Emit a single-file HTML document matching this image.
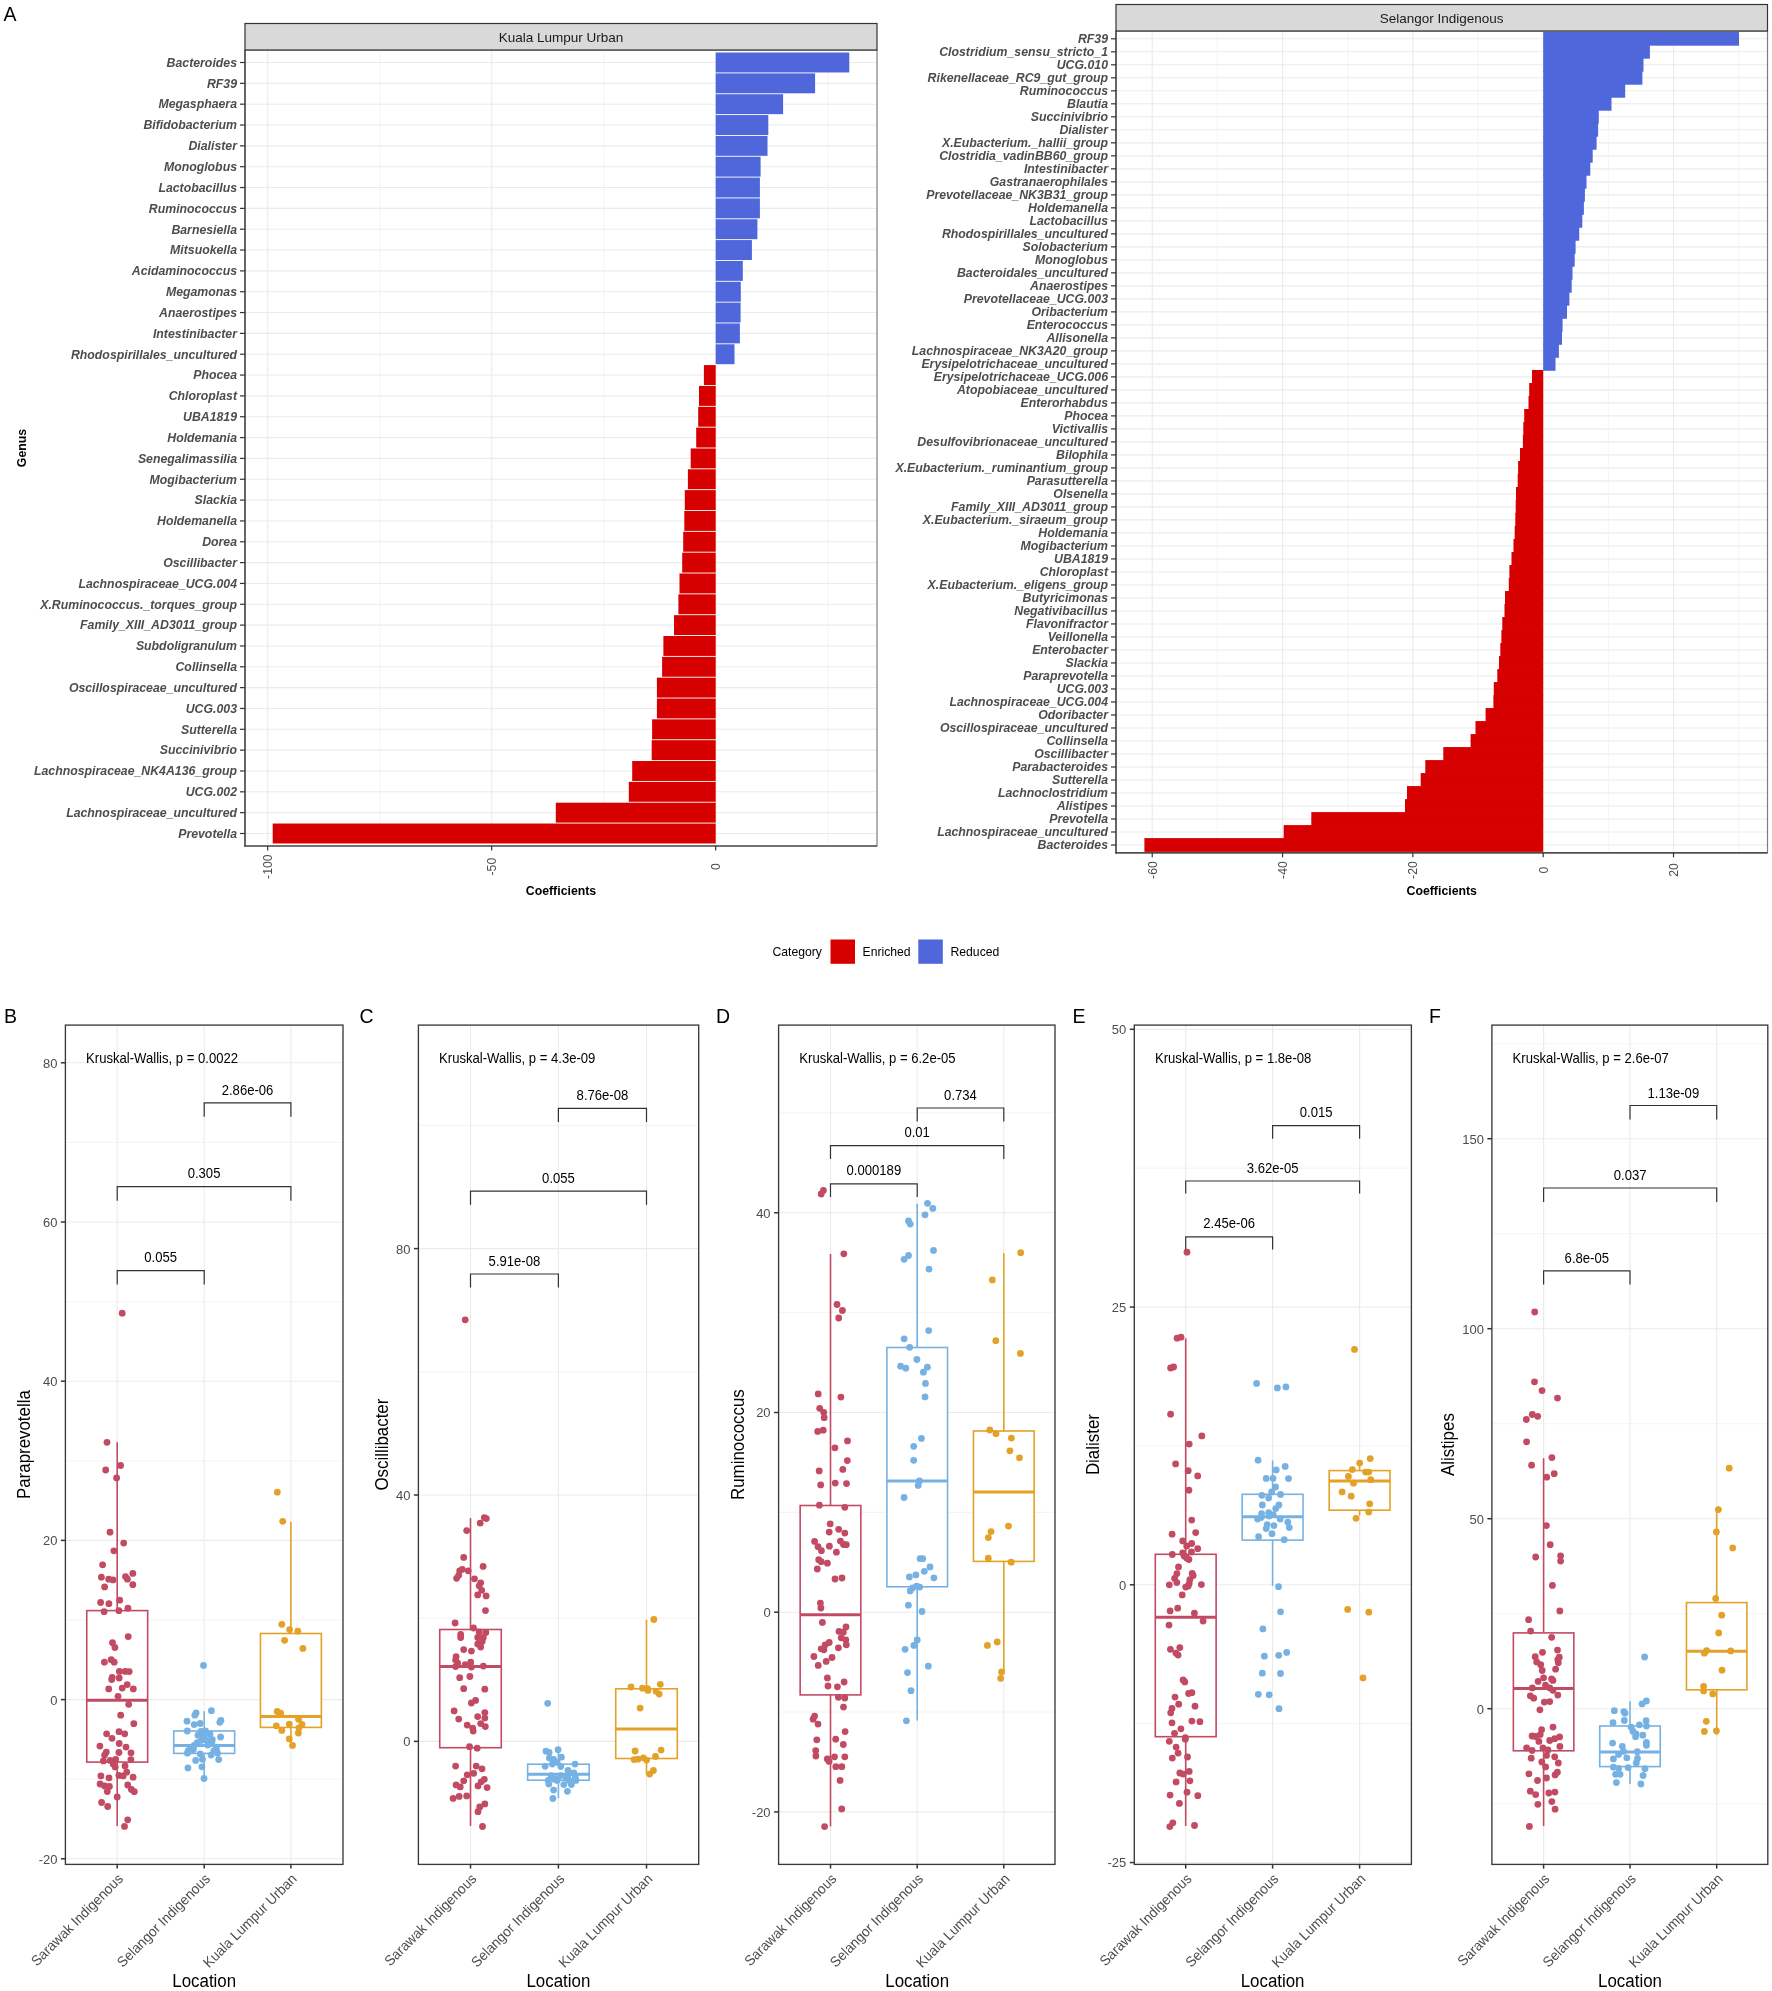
<!DOCTYPE html>
<html><head><meta charset="utf-8"><style>
html,body{margin:0;padding:0;background:#fff;}
svg{display:block;font-family:"Liberation Sans", sans-serif;will-change:transform;}
</style></head><body>
<svg width="1772" height="1991" viewBox="0 0 1772 1991">
<rect x="0" y="0" width="1772" height="1991" fill="#ffffff"/>
<rect x="245.00" y="50.00" width="632.00" height="796.00" fill="#ffffff"/>
<line x1="379.70" y1="50.00" x2="379.70" y2="846.00" stroke="#f2f2f2" stroke-width="0.8"/>
<line x1="603.70" y1="50.00" x2="603.70" y2="846.00" stroke="#f2f2f2" stroke-width="0.8"/>
<line x1="827.70" y1="50.00" x2="827.70" y2="846.00" stroke="#f2f2f2" stroke-width="0.8"/>
<line x1="267.70" y1="50.00" x2="267.70" y2="846.00" stroke="#ebebeb" stroke-width="1.1"/>
<line x1="491.70" y1="50.00" x2="491.70" y2="846.00" stroke="#ebebeb" stroke-width="1.1"/>
<line x1="715.70" y1="50.00" x2="715.70" y2="846.00" stroke="#ebebeb" stroke-width="1.1"/>
<line x1="245.00" y1="62.50" x2="877.00" y2="62.50" stroke="#ebebeb" stroke-width="1.1"/>
<line x1="245.00" y1="83.34" x2="877.00" y2="83.34" stroke="#ebebeb" stroke-width="1.1"/>
<line x1="245.00" y1="104.18" x2="877.00" y2="104.18" stroke="#ebebeb" stroke-width="1.1"/>
<line x1="245.00" y1="125.02" x2="877.00" y2="125.02" stroke="#ebebeb" stroke-width="1.1"/>
<line x1="245.00" y1="145.85" x2="877.00" y2="145.85" stroke="#ebebeb" stroke-width="1.1"/>
<line x1="245.00" y1="166.69" x2="877.00" y2="166.69" stroke="#ebebeb" stroke-width="1.1"/>
<line x1="245.00" y1="187.53" x2="877.00" y2="187.53" stroke="#ebebeb" stroke-width="1.1"/>
<line x1="245.00" y1="208.37" x2="877.00" y2="208.37" stroke="#ebebeb" stroke-width="1.1"/>
<line x1="245.00" y1="229.20" x2="877.00" y2="229.20" stroke="#ebebeb" stroke-width="1.1"/>
<line x1="245.00" y1="250.04" x2="877.00" y2="250.04" stroke="#ebebeb" stroke-width="1.1"/>
<line x1="245.00" y1="270.88" x2="877.00" y2="270.88" stroke="#ebebeb" stroke-width="1.1"/>
<line x1="245.00" y1="291.72" x2="877.00" y2="291.72" stroke="#ebebeb" stroke-width="1.1"/>
<line x1="245.00" y1="312.55" x2="877.00" y2="312.55" stroke="#ebebeb" stroke-width="1.1"/>
<line x1="245.00" y1="333.39" x2="877.00" y2="333.39" stroke="#ebebeb" stroke-width="1.1"/>
<line x1="245.00" y1="354.23" x2="877.00" y2="354.23" stroke="#ebebeb" stroke-width="1.1"/>
<line x1="245.00" y1="375.07" x2="877.00" y2="375.07" stroke="#ebebeb" stroke-width="1.1"/>
<line x1="245.00" y1="395.91" x2="877.00" y2="395.91" stroke="#ebebeb" stroke-width="1.1"/>
<line x1="245.00" y1="416.74" x2="877.00" y2="416.74" stroke="#ebebeb" stroke-width="1.1"/>
<line x1="245.00" y1="437.58" x2="877.00" y2="437.58" stroke="#ebebeb" stroke-width="1.1"/>
<line x1="245.00" y1="458.42" x2="877.00" y2="458.42" stroke="#ebebeb" stroke-width="1.1"/>
<line x1="245.00" y1="479.26" x2="877.00" y2="479.26" stroke="#ebebeb" stroke-width="1.1"/>
<line x1="245.00" y1="500.09" x2="877.00" y2="500.09" stroke="#ebebeb" stroke-width="1.1"/>
<line x1="245.00" y1="520.93" x2="877.00" y2="520.93" stroke="#ebebeb" stroke-width="1.1"/>
<line x1="245.00" y1="541.77" x2="877.00" y2="541.77" stroke="#ebebeb" stroke-width="1.1"/>
<line x1="245.00" y1="562.61" x2="877.00" y2="562.61" stroke="#ebebeb" stroke-width="1.1"/>
<line x1="245.00" y1="583.45" x2="877.00" y2="583.45" stroke="#ebebeb" stroke-width="1.1"/>
<line x1="245.00" y1="604.28" x2="877.00" y2="604.28" stroke="#ebebeb" stroke-width="1.1"/>
<line x1="245.00" y1="625.12" x2="877.00" y2="625.12" stroke="#ebebeb" stroke-width="1.1"/>
<line x1="245.00" y1="645.96" x2="877.00" y2="645.96" stroke="#ebebeb" stroke-width="1.1"/>
<line x1="245.00" y1="666.80" x2="877.00" y2="666.80" stroke="#ebebeb" stroke-width="1.1"/>
<line x1="245.00" y1="687.63" x2="877.00" y2="687.63" stroke="#ebebeb" stroke-width="1.1"/>
<line x1="245.00" y1="708.47" x2="877.00" y2="708.47" stroke="#ebebeb" stroke-width="1.1"/>
<line x1="245.00" y1="729.31" x2="877.00" y2="729.31" stroke="#ebebeb" stroke-width="1.1"/>
<line x1="245.00" y1="750.15" x2="877.00" y2="750.15" stroke="#ebebeb" stroke-width="1.1"/>
<line x1="245.00" y1="770.98" x2="877.00" y2="770.98" stroke="#ebebeb" stroke-width="1.1"/>
<line x1="245.00" y1="791.82" x2="877.00" y2="791.82" stroke="#ebebeb" stroke-width="1.1"/>
<line x1="245.00" y1="812.66" x2="877.00" y2="812.66" stroke="#ebebeb" stroke-width="1.1"/>
<line x1="245.00" y1="833.50" x2="877.00" y2="833.50" stroke="#ebebeb" stroke-width="1.1"/>
<rect x="715.70" y="52.53" width="133.60" height="19.94" fill="#4f67db"/>
<rect x="715.70" y="73.37" width="99.40" height="19.94" fill="#4f67db"/>
<rect x="715.70" y="94.21" width="67.40" height="19.94" fill="#4f67db"/>
<rect x="715.70" y="115.05" width="52.60" height="19.94" fill="#4f67db"/>
<rect x="715.70" y="135.88" width="51.80" height="19.94" fill="#4f67db"/>
<rect x="715.70" y="156.72" width="44.90" height="19.94" fill="#4f67db"/>
<rect x="715.70" y="177.56" width="44.20" height="19.94" fill="#4f67db"/>
<rect x="715.70" y="198.40" width="44.20" height="19.94" fill="#4f67db"/>
<rect x="715.70" y="219.24" width="41.70" height="19.94" fill="#4f67db"/>
<rect x="715.70" y="240.07" width="36.20" height="19.94" fill="#4f67db"/>
<rect x="715.70" y="260.91" width="27.10" height="19.94" fill="#4f67db"/>
<rect x="715.70" y="281.75" width="25.10" height="19.94" fill="#4f67db"/>
<rect x="715.70" y="302.59" width="24.90" height="19.94" fill="#4f67db"/>
<rect x="715.70" y="323.42" width="24.20" height="19.94" fill="#4f67db"/>
<rect x="715.70" y="344.26" width="18.80" height="19.94" fill="#4f67db"/>
<rect x="703.90" y="365.10" width="11.80" height="19.94" fill="#d70000"/>
<rect x="699.00" y="385.94" width="16.70" height="19.94" fill="#d70000"/>
<rect x="698.20" y="406.77" width="17.50" height="19.94" fill="#d70000"/>
<rect x="696.20" y="427.61" width="19.50" height="19.94" fill="#d70000"/>
<rect x="690.70" y="448.45" width="25.00" height="19.94" fill="#d70000"/>
<rect x="687.90" y="469.29" width="27.80" height="19.94" fill="#d70000"/>
<rect x="684.80" y="490.13" width="30.90" height="19.94" fill="#d70000"/>
<rect x="684.30" y="510.96" width="31.40" height="19.94" fill="#d70000"/>
<rect x="683.20" y="531.80" width="32.50" height="19.94" fill="#d70000"/>
<rect x="682.20" y="552.64" width="33.50" height="19.94" fill="#d70000"/>
<rect x="679.50" y="573.48" width="36.20" height="19.94" fill="#d70000"/>
<rect x="678.40" y="594.31" width="37.30" height="19.94" fill="#d70000"/>
<rect x="674.00" y="615.15" width="41.70" height="19.94" fill="#d70000"/>
<rect x="663.40" y="635.99" width="52.30" height="19.94" fill="#d70000"/>
<rect x="662.10" y="656.83" width="53.60" height="19.94" fill="#d70000"/>
<rect x="656.90" y="677.66" width="58.80" height="19.94" fill="#d70000"/>
<rect x="656.90" y="698.50" width="58.80" height="19.94" fill="#d70000"/>
<rect x="652.10" y="719.34" width="63.60" height="19.94" fill="#d70000"/>
<rect x="651.70" y="740.18" width="64.00" height="19.94" fill="#d70000"/>
<rect x="632.20" y="761.02" width="83.50" height="19.94" fill="#d70000"/>
<rect x="628.80" y="781.85" width="86.90" height="19.94" fill="#d70000"/>
<rect x="555.80" y="802.69" width="159.90" height="19.94" fill="#d70000"/>
<rect x="272.70" y="823.53" width="443.00" height="19.94" fill="#d70000"/>
<rect x="245.00" y="50.00" width="632.00" height="796.00" fill="none" stroke="#7f7f7f" stroke-width="1.2"/>
<line x1="245.00" y1="50.00" x2="245.00" y2="846.60" stroke="#333333" stroke-width="1.2"/>
<line x1="244.40" y1="846.00" x2="877.00" y2="846.00" stroke="#333333" stroke-width="1.2"/>
<rect x="245.00" y="23.50" width="632.00" height="26.50" fill="#d9d9d9" stroke="#333333" stroke-width="1.2"/>
<text x="561.00" y="41.70" font-size="13.5" fill="#1a1a1a" text-anchor="middle" font-weight="normal" font-style="normal">Kuala Lumpur Urban</text>
<line x1="240.00" y1="62.50" x2="245.00" y2="62.50" stroke="#333333" stroke-width="1.2"/>
<text x="237.00" y="66.80" font-size="12.3" fill="#4d4d4d" text-anchor="end" font-weight="bold" font-style="italic">Bacteroides</text>
<line x1="240.00" y1="83.34" x2="245.00" y2="83.34" stroke="#333333" stroke-width="1.2"/>
<text x="237.00" y="87.64" font-size="12.3" fill="#4d4d4d" text-anchor="end" font-weight="bold" font-style="italic">RF39</text>
<line x1="240.00" y1="104.18" x2="245.00" y2="104.18" stroke="#333333" stroke-width="1.2"/>
<text x="237.00" y="108.48" font-size="12.3" fill="#4d4d4d" text-anchor="end" font-weight="bold" font-style="italic">Megasphaera</text>
<line x1="240.00" y1="125.02" x2="245.00" y2="125.02" stroke="#333333" stroke-width="1.2"/>
<text x="237.00" y="129.32" font-size="12.3" fill="#4d4d4d" text-anchor="end" font-weight="bold" font-style="italic">Bifidobacterium</text>
<line x1="240.00" y1="145.85" x2="245.00" y2="145.85" stroke="#333333" stroke-width="1.2"/>
<text x="237.00" y="150.15" font-size="12.3" fill="#4d4d4d" text-anchor="end" font-weight="bold" font-style="italic">Dialister</text>
<line x1="240.00" y1="166.69" x2="245.00" y2="166.69" stroke="#333333" stroke-width="1.2"/>
<text x="237.00" y="170.99" font-size="12.3" fill="#4d4d4d" text-anchor="end" font-weight="bold" font-style="italic">Monoglobus</text>
<line x1="240.00" y1="187.53" x2="245.00" y2="187.53" stroke="#333333" stroke-width="1.2"/>
<text x="237.00" y="191.83" font-size="12.3" fill="#4d4d4d" text-anchor="end" font-weight="bold" font-style="italic">Lactobacillus</text>
<line x1="240.00" y1="208.37" x2="245.00" y2="208.37" stroke="#333333" stroke-width="1.2"/>
<text x="237.00" y="212.67" font-size="12.3" fill="#4d4d4d" text-anchor="end" font-weight="bold" font-style="italic">Ruminococcus</text>
<line x1="240.00" y1="229.20" x2="245.00" y2="229.20" stroke="#333333" stroke-width="1.2"/>
<text x="237.00" y="233.50" font-size="12.3" fill="#4d4d4d" text-anchor="end" font-weight="bold" font-style="italic">Barnesiella</text>
<line x1="240.00" y1="250.04" x2="245.00" y2="250.04" stroke="#333333" stroke-width="1.2"/>
<text x="237.00" y="254.34" font-size="12.3" fill="#4d4d4d" text-anchor="end" font-weight="bold" font-style="italic">Mitsuokella</text>
<line x1="240.00" y1="270.88" x2="245.00" y2="270.88" stroke="#333333" stroke-width="1.2"/>
<text x="237.00" y="275.18" font-size="12.3" fill="#4d4d4d" text-anchor="end" font-weight="bold" font-style="italic">Acidaminococcus</text>
<line x1="240.00" y1="291.72" x2="245.00" y2="291.72" stroke="#333333" stroke-width="1.2"/>
<text x="237.00" y="296.02" font-size="12.3" fill="#4d4d4d" text-anchor="end" font-weight="bold" font-style="italic">Megamonas</text>
<line x1="240.00" y1="312.55" x2="245.00" y2="312.55" stroke="#333333" stroke-width="1.2"/>
<text x="237.00" y="316.85" font-size="12.3" fill="#4d4d4d" text-anchor="end" font-weight="bold" font-style="italic">Anaerostipes</text>
<line x1="240.00" y1="333.39" x2="245.00" y2="333.39" stroke="#333333" stroke-width="1.2"/>
<text x="237.00" y="337.69" font-size="12.3" fill="#4d4d4d" text-anchor="end" font-weight="bold" font-style="italic">Intestinibacter</text>
<line x1="240.00" y1="354.23" x2="245.00" y2="354.23" stroke="#333333" stroke-width="1.2"/>
<text x="237.00" y="358.53" font-size="12.3" fill="#4d4d4d" text-anchor="end" font-weight="bold" font-style="italic">Rhodospirillales_uncultured</text>
<line x1="240.00" y1="375.07" x2="245.00" y2="375.07" stroke="#333333" stroke-width="1.2"/>
<text x="237.00" y="379.37" font-size="12.3" fill="#4d4d4d" text-anchor="end" font-weight="bold" font-style="italic">Phocea</text>
<line x1="240.00" y1="395.91" x2="245.00" y2="395.91" stroke="#333333" stroke-width="1.2"/>
<text x="237.00" y="400.21" font-size="12.3" fill="#4d4d4d" text-anchor="end" font-weight="bold" font-style="italic">Chloroplast</text>
<line x1="240.00" y1="416.74" x2="245.00" y2="416.74" stroke="#333333" stroke-width="1.2"/>
<text x="237.00" y="421.04" font-size="12.3" fill="#4d4d4d" text-anchor="end" font-weight="bold" font-style="italic">UBA1819</text>
<line x1="240.00" y1="437.58" x2="245.00" y2="437.58" stroke="#333333" stroke-width="1.2"/>
<text x="237.00" y="441.88" font-size="12.3" fill="#4d4d4d" text-anchor="end" font-weight="bold" font-style="italic">Holdemania</text>
<line x1="240.00" y1="458.42" x2="245.00" y2="458.42" stroke="#333333" stroke-width="1.2"/>
<text x="237.00" y="462.72" font-size="12.3" fill="#4d4d4d" text-anchor="end" font-weight="bold" font-style="italic">Senegalimassilia</text>
<line x1="240.00" y1="479.26" x2="245.00" y2="479.26" stroke="#333333" stroke-width="1.2"/>
<text x="237.00" y="483.56" font-size="12.3" fill="#4d4d4d" text-anchor="end" font-weight="bold" font-style="italic">Mogibacterium</text>
<line x1="240.00" y1="500.09" x2="245.00" y2="500.09" stroke="#333333" stroke-width="1.2"/>
<text x="237.00" y="504.39" font-size="12.3" fill="#4d4d4d" text-anchor="end" font-weight="bold" font-style="italic">Slackia</text>
<line x1="240.00" y1="520.93" x2="245.00" y2="520.93" stroke="#333333" stroke-width="1.2"/>
<text x="237.00" y="525.23" font-size="12.3" fill="#4d4d4d" text-anchor="end" font-weight="bold" font-style="italic">Holdemanella</text>
<line x1="240.00" y1="541.77" x2="245.00" y2="541.77" stroke="#333333" stroke-width="1.2"/>
<text x="237.00" y="546.07" font-size="12.3" fill="#4d4d4d" text-anchor="end" font-weight="bold" font-style="italic">Dorea</text>
<line x1="240.00" y1="562.61" x2="245.00" y2="562.61" stroke="#333333" stroke-width="1.2"/>
<text x="237.00" y="566.91" font-size="12.3" fill="#4d4d4d" text-anchor="end" font-weight="bold" font-style="italic">Oscillibacter</text>
<line x1="240.00" y1="583.45" x2="245.00" y2="583.45" stroke="#333333" stroke-width="1.2"/>
<text x="237.00" y="587.75" font-size="12.3" fill="#4d4d4d" text-anchor="end" font-weight="bold" font-style="italic">Lachnospiraceae_UCG.004</text>
<line x1="240.00" y1="604.28" x2="245.00" y2="604.28" stroke="#333333" stroke-width="1.2"/>
<text x="237.00" y="608.58" font-size="12.3" fill="#4d4d4d" text-anchor="end" font-weight="bold" font-style="italic">X.Ruminococcus._torques_group</text>
<line x1="240.00" y1="625.12" x2="245.00" y2="625.12" stroke="#333333" stroke-width="1.2"/>
<text x="237.00" y="629.42" font-size="12.3" fill="#4d4d4d" text-anchor="end" font-weight="bold" font-style="italic">Family_XIII_AD3011_group</text>
<line x1="240.00" y1="645.96" x2="245.00" y2="645.96" stroke="#333333" stroke-width="1.2"/>
<text x="237.00" y="650.26" font-size="12.3" fill="#4d4d4d" text-anchor="end" font-weight="bold" font-style="italic">Subdoligranulum</text>
<line x1="240.00" y1="666.80" x2="245.00" y2="666.80" stroke="#333333" stroke-width="1.2"/>
<text x="237.00" y="671.10" font-size="12.3" fill="#4d4d4d" text-anchor="end" font-weight="bold" font-style="italic">Collinsella</text>
<line x1="240.00" y1="687.63" x2="245.00" y2="687.63" stroke="#333333" stroke-width="1.2"/>
<text x="237.00" y="691.93" font-size="12.3" fill="#4d4d4d" text-anchor="end" font-weight="bold" font-style="italic">Oscillospiraceae_uncultured</text>
<line x1="240.00" y1="708.47" x2="245.00" y2="708.47" stroke="#333333" stroke-width="1.2"/>
<text x="237.00" y="712.77" font-size="12.3" fill="#4d4d4d" text-anchor="end" font-weight="bold" font-style="italic">UCG.003</text>
<line x1="240.00" y1="729.31" x2="245.00" y2="729.31" stroke="#333333" stroke-width="1.2"/>
<text x="237.00" y="733.61" font-size="12.3" fill="#4d4d4d" text-anchor="end" font-weight="bold" font-style="italic">Sutterella</text>
<line x1="240.00" y1="750.15" x2="245.00" y2="750.15" stroke="#333333" stroke-width="1.2"/>
<text x="237.00" y="754.45" font-size="12.3" fill="#4d4d4d" text-anchor="end" font-weight="bold" font-style="italic">Succinivibrio</text>
<line x1="240.00" y1="770.98" x2="245.00" y2="770.98" stroke="#333333" stroke-width="1.2"/>
<text x="237.00" y="775.28" font-size="12.3" fill="#4d4d4d" text-anchor="end" font-weight="bold" font-style="italic">Lachnospiraceae_NK4A136_group</text>
<line x1="240.00" y1="791.82" x2="245.00" y2="791.82" stroke="#333333" stroke-width="1.2"/>
<text x="237.00" y="796.12" font-size="12.3" fill="#4d4d4d" text-anchor="end" font-weight="bold" font-style="italic">UCG.002</text>
<line x1="240.00" y1="812.66" x2="245.00" y2="812.66" stroke="#333333" stroke-width="1.2"/>
<text x="237.00" y="816.96" font-size="12.3" fill="#4d4d4d" text-anchor="end" font-weight="bold" font-style="italic">Lachnospiraceae_uncultured</text>
<line x1="240.00" y1="833.50" x2="245.00" y2="833.50" stroke="#333333" stroke-width="1.2"/>
<text x="237.00" y="837.80" font-size="12.3" fill="#4d4d4d" text-anchor="end" font-weight="bold" font-style="italic">Prevotella</text>
<line x1="267.70" y1="846.00" x2="267.70" y2="850.50" stroke="#333333" stroke-width="1.2"/>
<text transform="translate(272.00,866.60) rotate(-90)" font-size="12.3" fill="#4d4d4d" text-anchor="middle">-100</text>
<line x1="491.70" y1="846.00" x2="491.70" y2="850.50" stroke="#333333" stroke-width="1.2"/>
<text transform="translate(496.00,866.60) rotate(-90)" font-size="12.3" fill="#4d4d4d" text-anchor="middle">-50</text>
<line x1="715.70" y1="846.00" x2="715.70" y2="850.50" stroke="#333333" stroke-width="1.2"/>
<text transform="translate(720.00,866.60) rotate(-90)" font-size="12.3" fill="#4d4d4d" text-anchor="middle">0</text>
<text x="561.00" y="895.10" font-size="12.3" fill="#000" text-anchor="middle" font-weight="bold" font-style="normal">Coefficients</text>
<rect x="1116.00" y="31.00" width="651.50" height="821.80" fill="#ffffff"/>
<line x1="1217.40" y1="31.00" x2="1217.40" y2="852.80" stroke="#f2f2f2" stroke-width="0.8"/>
<line x1="1347.72" y1="31.00" x2="1347.72" y2="852.80" stroke="#f2f2f2" stroke-width="0.8"/>
<line x1="1478.04" y1="31.00" x2="1478.04" y2="852.80" stroke="#f2f2f2" stroke-width="0.8"/>
<line x1="1608.36" y1="31.00" x2="1608.36" y2="852.80" stroke="#f2f2f2" stroke-width="0.8"/>
<line x1="1738.68" y1="31.00" x2="1738.68" y2="852.80" stroke="#f2f2f2" stroke-width="0.8"/>
<line x1="1152.24" y1="31.00" x2="1152.24" y2="852.80" stroke="#ebebeb" stroke-width="1.1"/>
<line x1="1282.56" y1="31.00" x2="1282.56" y2="852.80" stroke="#ebebeb" stroke-width="1.1"/>
<line x1="1412.88" y1="31.00" x2="1412.88" y2="852.80" stroke="#ebebeb" stroke-width="1.1"/>
<line x1="1543.20" y1="31.00" x2="1543.20" y2="852.80" stroke="#ebebeb" stroke-width="1.1"/>
<line x1="1673.52" y1="31.00" x2="1673.52" y2="852.80" stroke="#ebebeb" stroke-width="1.1"/>
<line x1="1116.00" y1="38.80" x2="1767.50" y2="38.80" stroke="#ebebeb" stroke-width="1.1"/>
<line x1="1116.00" y1="51.81" x2="1767.50" y2="51.81" stroke="#ebebeb" stroke-width="1.1"/>
<line x1="1116.00" y1="64.81" x2="1767.50" y2="64.81" stroke="#ebebeb" stroke-width="1.1"/>
<line x1="1116.00" y1="77.81" x2="1767.50" y2="77.81" stroke="#ebebeb" stroke-width="1.1"/>
<line x1="1116.00" y1="90.81" x2="1767.50" y2="90.81" stroke="#ebebeb" stroke-width="1.1"/>
<line x1="1116.00" y1="103.82" x2="1767.50" y2="103.82" stroke="#ebebeb" stroke-width="1.1"/>
<line x1="1116.00" y1="116.82" x2="1767.50" y2="116.82" stroke="#ebebeb" stroke-width="1.1"/>
<line x1="1116.00" y1="129.82" x2="1767.50" y2="129.82" stroke="#ebebeb" stroke-width="1.1"/>
<line x1="1116.00" y1="142.83" x2="1767.50" y2="142.83" stroke="#ebebeb" stroke-width="1.1"/>
<line x1="1116.00" y1="155.83" x2="1767.50" y2="155.83" stroke="#ebebeb" stroke-width="1.1"/>
<line x1="1116.00" y1="168.83" x2="1767.50" y2="168.83" stroke="#ebebeb" stroke-width="1.1"/>
<line x1="1116.00" y1="181.84" x2="1767.50" y2="181.84" stroke="#ebebeb" stroke-width="1.1"/>
<line x1="1116.00" y1="194.84" x2="1767.50" y2="194.84" stroke="#ebebeb" stroke-width="1.1"/>
<line x1="1116.00" y1="207.84" x2="1767.50" y2="207.84" stroke="#ebebeb" stroke-width="1.1"/>
<line x1="1116.00" y1="220.85" x2="1767.50" y2="220.85" stroke="#ebebeb" stroke-width="1.1"/>
<line x1="1116.00" y1="233.85" x2="1767.50" y2="233.85" stroke="#ebebeb" stroke-width="1.1"/>
<line x1="1116.00" y1="246.85" x2="1767.50" y2="246.85" stroke="#ebebeb" stroke-width="1.1"/>
<line x1="1116.00" y1="259.86" x2="1767.50" y2="259.86" stroke="#ebebeb" stroke-width="1.1"/>
<line x1="1116.00" y1="272.86" x2="1767.50" y2="272.86" stroke="#ebebeb" stroke-width="1.1"/>
<line x1="1116.00" y1="285.86" x2="1767.50" y2="285.86" stroke="#ebebeb" stroke-width="1.1"/>
<line x1="1116.00" y1="298.87" x2="1767.50" y2="298.87" stroke="#ebebeb" stroke-width="1.1"/>
<line x1="1116.00" y1="311.87" x2="1767.50" y2="311.87" stroke="#ebebeb" stroke-width="1.1"/>
<line x1="1116.00" y1="324.87" x2="1767.50" y2="324.87" stroke="#ebebeb" stroke-width="1.1"/>
<line x1="1116.00" y1="337.87" x2="1767.50" y2="337.87" stroke="#ebebeb" stroke-width="1.1"/>
<line x1="1116.00" y1="350.88" x2="1767.50" y2="350.88" stroke="#ebebeb" stroke-width="1.1"/>
<line x1="1116.00" y1="363.88" x2="1767.50" y2="363.88" stroke="#ebebeb" stroke-width="1.1"/>
<line x1="1116.00" y1="376.88" x2="1767.50" y2="376.88" stroke="#ebebeb" stroke-width="1.1"/>
<line x1="1116.00" y1="389.89" x2="1767.50" y2="389.89" stroke="#ebebeb" stroke-width="1.1"/>
<line x1="1116.00" y1="402.89" x2="1767.50" y2="402.89" stroke="#ebebeb" stroke-width="1.1"/>
<line x1="1116.00" y1="415.89" x2="1767.50" y2="415.89" stroke="#ebebeb" stroke-width="1.1"/>
<line x1="1116.00" y1="428.90" x2="1767.50" y2="428.90" stroke="#ebebeb" stroke-width="1.1"/>
<line x1="1116.00" y1="441.90" x2="1767.50" y2="441.90" stroke="#ebebeb" stroke-width="1.1"/>
<line x1="1116.00" y1="454.90" x2="1767.50" y2="454.90" stroke="#ebebeb" stroke-width="1.1"/>
<line x1="1116.00" y1="467.91" x2="1767.50" y2="467.91" stroke="#ebebeb" stroke-width="1.1"/>
<line x1="1116.00" y1="480.91" x2="1767.50" y2="480.91" stroke="#ebebeb" stroke-width="1.1"/>
<line x1="1116.00" y1="493.91" x2="1767.50" y2="493.91" stroke="#ebebeb" stroke-width="1.1"/>
<line x1="1116.00" y1="506.92" x2="1767.50" y2="506.92" stroke="#ebebeb" stroke-width="1.1"/>
<line x1="1116.00" y1="519.92" x2="1767.50" y2="519.92" stroke="#ebebeb" stroke-width="1.1"/>
<line x1="1116.00" y1="532.92" x2="1767.50" y2="532.92" stroke="#ebebeb" stroke-width="1.1"/>
<line x1="1116.00" y1="545.93" x2="1767.50" y2="545.93" stroke="#ebebeb" stroke-width="1.1"/>
<line x1="1116.00" y1="558.93" x2="1767.50" y2="558.93" stroke="#ebebeb" stroke-width="1.1"/>
<line x1="1116.00" y1="571.93" x2="1767.50" y2="571.93" stroke="#ebebeb" stroke-width="1.1"/>
<line x1="1116.00" y1="584.93" x2="1767.50" y2="584.93" stroke="#ebebeb" stroke-width="1.1"/>
<line x1="1116.00" y1="597.94" x2="1767.50" y2="597.94" stroke="#ebebeb" stroke-width="1.1"/>
<line x1="1116.00" y1="610.94" x2="1767.50" y2="610.94" stroke="#ebebeb" stroke-width="1.1"/>
<line x1="1116.00" y1="623.94" x2="1767.50" y2="623.94" stroke="#ebebeb" stroke-width="1.1"/>
<line x1="1116.00" y1="636.95" x2="1767.50" y2="636.95" stroke="#ebebeb" stroke-width="1.1"/>
<line x1="1116.00" y1="649.95" x2="1767.50" y2="649.95" stroke="#ebebeb" stroke-width="1.1"/>
<line x1="1116.00" y1="662.95" x2="1767.50" y2="662.95" stroke="#ebebeb" stroke-width="1.1"/>
<line x1="1116.00" y1="675.96" x2="1767.50" y2="675.96" stroke="#ebebeb" stroke-width="1.1"/>
<line x1="1116.00" y1="688.96" x2="1767.50" y2="688.96" stroke="#ebebeb" stroke-width="1.1"/>
<line x1="1116.00" y1="701.96" x2="1767.50" y2="701.96" stroke="#ebebeb" stroke-width="1.1"/>
<line x1="1116.00" y1="714.97" x2="1767.50" y2="714.97" stroke="#ebebeb" stroke-width="1.1"/>
<line x1="1116.00" y1="727.97" x2="1767.50" y2="727.97" stroke="#ebebeb" stroke-width="1.1"/>
<line x1="1116.00" y1="740.97" x2="1767.50" y2="740.97" stroke="#ebebeb" stroke-width="1.1"/>
<line x1="1116.00" y1="753.98" x2="1767.50" y2="753.98" stroke="#ebebeb" stroke-width="1.1"/>
<line x1="1116.00" y1="766.98" x2="1767.50" y2="766.98" stroke="#ebebeb" stroke-width="1.1"/>
<line x1="1116.00" y1="779.98" x2="1767.50" y2="779.98" stroke="#ebebeb" stroke-width="1.1"/>
<line x1="1116.00" y1="792.99" x2="1767.50" y2="792.99" stroke="#ebebeb" stroke-width="1.1"/>
<line x1="1116.00" y1="805.99" x2="1767.50" y2="805.99" stroke="#ebebeb" stroke-width="1.1"/>
<line x1="1116.00" y1="818.99" x2="1767.50" y2="818.99" stroke="#ebebeb" stroke-width="1.1"/>
<line x1="1116.00" y1="831.99" x2="1767.50" y2="831.99" stroke="#ebebeb" stroke-width="1.1"/>
<line x1="1116.00" y1="845.00" x2="1767.50" y2="845.00" stroke="#ebebeb" stroke-width="1.1"/>
<rect x="1543.20" y="31.90" width="195.80" height="13.80" fill="#4f67db"/>
<rect x="1543.20" y="44.90" width="106.70" height="13.80" fill="#4f67db"/>
<rect x="1543.20" y="57.91" width="100.30" height="13.80" fill="#4f67db"/>
<rect x="1543.20" y="70.91" width="99.20" height="13.80" fill="#4f67db"/>
<rect x="1543.20" y="83.91" width="82.00" height="13.80" fill="#4f67db"/>
<rect x="1543.20" y="96.92" width="68.30" height="13.80" fill="#4f67db"/>
<rect x="1543.20" y="109.92" width="55.60" height="13.80" fill="#4f67db"/>
<rect x="1543.20" y="122.92" width="54.90" height="13.80" fill="#4f67db"/>
<rect x="1543.20" y="135.93" width="53.40" height="13.80" fill="#4f67db"/>
<rect x="1543.20" y="148.93" width="49.50" height="13.80" fill="#4f67db"/>
<rect x="1543.20" y="161.93" width="47.10" height="13.80" fill="#4f67db"/>
<rect x="1543.20" y="174.94" width="43.30" height="13.80" fill="#4f67db"/>
<rect x="1543.20" y="187.94" width="41.70" height="13.80" fill="#4f67db"/>
<rect x="1543.20" y="200.94" width="40.70" height="13.80" fill="#4f67db"/>
<rect x="1543.20" y="213.94" width="39.10" height="13.80" fill="#4f67db"/>
<rect x="1543.20" y="226.95" width="36.00" height="13.80" fill="#4f67db"/>
<rect x="1543.20" y="239.95" width="32.40" height="13.80" fill="#4f67db"/>
<rect x="1543.20" y="252.95" width="31.50" height="13.80" fill="#4f67db"/>
<rect x="1543.20" y="265.96" width="29.30" height="13.80" fill="#4f67db"/>
<rect x="1543.20" y="278.96" width="28.50" height="13.80" fill="#4f67db"/>
<rect x="1543.20" y="291.96" width="26.20" height="13.80" fill="#4f67db"/>
<rect x="1543.20" y="304.97" width="23.80" height="13.80" fill="#4f67db"/>
<rect x="1543.20" y="317.97" width="19.40" height="13.80" fill="#4f67db"/>
<rect x="1543.20" y="330.97" width="18.80" height="13.80" fill="#4f67db"/>
<rect x="1543.20" y="343.98" width="15.70" height="13.80" fill="#4f67db"/>
<rect x="1543.20" y="356.98" width="12.30" height="13.80" fill="#4f67db"/>
<rect x="1532.00" y="369.98" width="11.20" height="13.80" fill="#d70000"/>
<rect x="1529.20" y="382.99" width="14.00" height="13.80" fill="#d70000"/>
<rect x="1528.50" y="395.99" width="14.70" height="13.80" fill="#d70000"/>
<rect x="1524.20" y="408.99" width="19.00" height="13.80" fill="#d70000"/>
<rect x="1523.30" y="422.00" width="19.90" height="13.80" fill="#d70000"/>
<rect x="1522.90" y="435.00" width="20.30" height="13.80" fill="#d70000"/>
<rect x="1520.00" y="448.00" width="23.20" height="13.80" fill="#d70000"/>
<rect x="1518.10" y="461.00" width="25.10" height="13.80" fill="#d70000"/>
<rect x="1517.70" y="474.01" width="25.50" height="13.80" fill="#d70000"/>
<rect x="1516.00" y="487.01" width="27.20" height="13.80" fill="#d70000"/>
<rect x="1515.70" y="500.01" width="27.50" height="13.80" fill="#d70000"/>
<rect x="1515.30" y="513.02" width="27.90" height="13.80" fill="#d70000"/>
<rect x="1514.70" y="526.02" width="28.50" height="13.80" fill="#d70000"/>
<rect x="1513.50" y="539.02" width="29.70" height="13.80" fill="#d70000"/>
<rect x="1511.50" y="552.03" width="31.70" height="13.80" fill="#d70000"/>
<rect x="1509.40" y="565.03" width="33.80" height="13.80" fill="#d70000"/>
<rect x="1508.80" y="578.03" width="34.40" height="13.80" fill="#d70000"/>
<rect x="1505.00" y="591.04" width="38.20" height="13.80" fill="#d70000"/>
<rect x="1504.50" y="604.04" width="38.70" height="13.80" fill="#d70000"/>
<rect x="1502.30" y="617.04" width="40.90" height="13.80" fill="#d70000"/>
<rect x="1501.40" y="630.05" width="41.80" height="13.80" fill="#d70000"/>
<rect x="1500.30" y="643.05" width="42.90" height="13.80" fill="#d70000"/>
<rect x="1499.00" y="656.05" width="44.20" height="13.80" fill="#d70000"/>
<rect x="1497.30" y="669.06" width="45.90" height="13.80" fill="#d70000"/>
<rect x="1493.80" y="682.06" width="49.40" height="13.80" fill="#d70000"/>
<rect x="1493.40" y="695.06" width="49.80" height="13.80" fill="#d70000"/>
<rect x="1485.60" y="708.06" width="57.60" height="13.80" fill="#d70000"/>
<rect x="1475.50" y="721.07" width="67.70" height="13.80" fill="#d70000"/>
<rect x="1470.60" y="734.07" width="72.60" height="13.80" fill="#d70000"/>
<rect x="1443.30" y="747.07" width="99.90" height="13.80" fill="#d70000"/>
<rect x="1425.30" y="760.08" width="117.90" height="13.80" fill="#d70000"/>
<rect x="1420.70" y="773.08" width="122.50" height="13.80" fill="#d70000"/>
<rect x="1407.00" y="786.08" width="136.20" height="13.80" fill="#d70000"/>
<rect x="1405.00" y="799.09" width="138.20" height="13.80" fill="#d70000"/>
<rect x="1311.30" y="812.09" width="231.90" height="13.80" fill="#d70000"/>
<rect x="1283.70" y="825.09" width="259.50" height="13.80" fill="#d70000"/>
<rect x="1144.40" y="838.10" width="398.80" height="13.80" fill="#d70000"/>
<rect x="1116.00" y="31.00" width="651.50" height="821.80" fill="none" stroke="#7f7f7f" stroke-width="1.2"/>
<line x1="1116.00" y1="31.00" x2="1116.00" y2="853.40" stroke="#333333" stroke-width="1.2"/>
<line x1="1115.40" y1="852.80" x2="1767.50" y2="852.80" stroke="#333333" stroke-width="1.2"/>
<rect x="1116.00" y="4.50" width="651.50" height="26.50" fill="#d9d9d9" stroke="#333333" stroke-width="1.2"/>
<text x="1441.70" y="22.70" font-size="13.5" fill="#1a1a1a" text-anchor="middle" font-weight="normal" font-style="normal">Selangor Indigenous</text>
<line x1="1111.00" y1="38.80" x2="1116.00" y2="38.80" stroke="#333333" stroke-width="1.2"/>
<text x="1108.00" y="43.10" font-size="12.3" fill="#4d4d4d" text-anchor="end" font-weight="bold" font-style="italic">RF39</text>
<line x1="1111.00" y1="51.81" x2="1116.00" y2="51.81" stroke="#333333" stroke-width="1.2"/>
<text x="1108.00" y="56.11" font-size="12.3" fill="#4d4d4d" text-anchor="end" font-weight="bold" font-style="italic">Clostridium_sensu_stricto_1</text>
<line x1="1111.00" y1="64.81" x2="1116.00" y2="64.81" stroke="#333333" stroke-width="1.2"/>
<text x="1108.00" y="69.11" font-size="12.3" fill="#4d4d4d" text-anchor="end" font-weight="bold" font-style="italic">UCG.010</text>
<line x1="1111.00" y1="77.81" x2="1116.00" y2="77.81" stroke="#333333" stroke-width="1.2"/>
<text x="1108.00" y="82.11" font-size="12.3" fill="#4d4d4d" text-anchor="end" font-weight="bold" font-style="italic">Rikenellaceae_RC9_gut_group</text>
<line x1="1111.00" y1="90.81" x2="1116.00" y2="90.81" stroke="#333333" stroke-width="1.2"/>
<text x="1108.00" y="95.11" font-size="12.3" fill="#4d4d4d" text-anchor="end" font-weight="bold" font-style="italic">Ruminococcus</text>
<line x1="1111.00" y1="103.82" x2="1116.00" y2="103.82" stroke="#333333" stroke-width="1.2"/>
<text x="1108.00" y="108.12" font-size="12.3" fill="#4d4d4d" text-anchor="end" font-weight="bold" font-style="italic">Blautia</text>
<line x1="1111.00" y1="116.82" x2="1116.00" y2="116.82" stroke="#333333" stroke-width="1.2"/>
<text x="1108.00" y="121.12" font-size="12.3" fill="#4d4d4d" text-anchor="end" font-weight="bold" font-style="italic">Succinivibrio</text>
<line x1="1111.00" y1="129.82" x2="1116.00" y2="129.82" stroke="#333333" stroke-width="1.2"/>
<text x="1108.00" y="134.12" font-size="12.3" fill="#4d4d4d" text-anchor="end" font-weight="bold" font-style="italic">Dialister</text>
<line x1="1111.00" y1="142.83" x2="1116.00" y2="142.83" stroke="#333333" stroke-width="1.2"/>
<text x="1108.00" y="147.13" font-size="12.3" fill="#4d4d4d" text-anchor="end" font-weight="bold" font-style="italic">X.Eubacterium._hallii_group</text>
<line x1="1111.00" y1="155.83" x2="1116.00" y2="155.83" stroke="#333333" stroke-width="1.2"/>
<text x="1108.00" y="160.13" font-size="12.3" fill="#4d4d4d" text-anchor="end" font-weight="bold" font-style="italic">Clostridia_vadinBB60_group</text>
<line x1="1111.00" y1="168.83" x2="1116.00" y2="168.83" stroke="#333333" stroke-width="1.2"/>
<text x="1108.00" y="173.13" font-size="12.3" fill="#4d4d4d" text-anchor="end" font-weight="bold" font-style="italic">Intestinibacter</text>
<line x1="1111.00" y1="181.84" x2="1116.00" y2="181.84" stroke="#333333" stroke-width="1.2"/>
<text x="1108.00" y="186.14" font-size="12.3" fill="#4d4d4d" text-anchor="end" font-weight="bold" font-style="italic">Gastranaerophilales</text>
<line x1="1111.00" y1="194.84" x2="1116.00" y2="194.84" stroke="#333333" stroke-width="1.2"/>
<text x="1108.00" y="199.14" font-size="12.3" fill="#4d4d4d" text-anchor="end" font-weight="bold" font-style="italic">Prevotellaceae_NK3B31_group</text>
<line x1="1111.00" y1="207.84" x2="1116.00" y2="207.84" stroke="#333333" stroke-width="1.2"/>
<text x="1108.00" y="212.14" font-size="12.3" fill="#4d4d4d" text-anchor="end" font-weight="bold" font-style="italic">Holdemanella</text>
<line x1="1111.00" y1="220.85" x2="1116.00" y2="220.85" stroke="#333333" stroke-width="1.2"/>
<text x="1108.00" y="225.15" font-size="12.3" fill="#4d4d4d" text-anchor="end" font-weight="bold" font-style="italic">Lactobacillus</text>
<line x1="1111.00" y1="233.85" x2="1116.00" y2="233.85" stroke="#333333" stroke-width="1.2"/>
<text x="1108.00" y="238.15" font-size="12.3" fill="#4d4d4d" text-anchor="end" font-weight="bold" font-style="italic">Rhodospirillales_uncultured</text>
<line x1="1111.00" y1="246.85" x2="1116.00" y2="246.85" stroke="#333333" stroke-width="1.2"/>
<text x="1108.00" y="251.15" font-size="12.3" fill="#4d4d4d" text-anchor="end" font-weight="bold" font-style="italic">Solobacterium</text>
<line x1="1111.00" y1="259.86" x2="1116.00" y2="259.86" stroke="#333333" stroke-width="1.2"/>
<text x="1108.00" y="264.16" font-size="12.3" fill="#4d4d4d" text-anchor="end" font-weight="bold" font-style="italic">Monoglobus</text>
<line x1="1111.00" y1="272.86" x2="1116.00" y2="272.86" stroke="#333333" stroke-width="1.2"/>
<text x="1108.00" y="277.16" font-size="12.3" fill="#4d4d4d" text-anchor="end" font-weight="bold" font-style="italic">Bacteroidales_uncultured</text>
<line x1="1111.00" y1="285.86" x2="1116.00" y2="285.86" stroke="#333333" stroke-width="1.2"/>
<text x="1108.00" y="290.16" font-size="12.3" fill="#4d4d4d" text-anchor="end" font-weight="bold" font-style="italic">Anaerostipes</text>
<line x1="1111.00" y1="298.87" x2="1116.00" y2="298.87" stroke="#333333" stroke-width="1.2"/>
<text x="1108.00" y="303.17" font-size="12.3" fill="#4d4d4d" text-anchor="end" font-weight="bold" font-style="italic">Prevotellaceae_UCG.003</text>
<line x1="1111.00" y1="311.87" x2="1116.00" y2="311.87" stroke="#333333" stroke-width="1.2"/>
<text x="1108.00" y="316.17" font-size="12.3" fill="#4d4d4d" text-anchor="end" font-weight="bold" font-style="italic">Oribacterium</text>
<line x1="1111.00" y1="324.87" x2="1116.00" y2="324.87" stroke="#333333" stroke-width="1.2"/>
<text x="1108.00" y="329.17" font-size="12.3" fill="#4d4d4d" text-anchor="end" font-weight="bold" font-style="italic">Enterococcus</text>
<line x1="1111.00" y1="337.87" x2="1116.00" y2="337.87" stroke="#333333" stroke-width="1.2"/>
<text x="1108.00" y="342.17" font-size="12.3" fill="#4d4d4d" text-anchor="end" font-weight="bold" font-style="italic">Allisonella</text>
<line x1="1111.00" y1="350.88" x2="1116.00" y2="350.88" stroke="#333333" stroke-width="1.2"/>
<text x="1108.00" y="355.18" font-size="12.3" fill="#4d4d4d" text-anchor="end" font-weight="bold" font-style="italic">Lachnospiraceae_NK3A20_group</text>
<line x1="1111.00" y1="363.88" x2="1116.00" y2="363.88" stroke="#333333" stroke-width="1.2"/>
<text x="1108.00" y="368.18" font-size="12.3" fill="#4d4d4d" text-anchor="end" font-weight="bold" font-style="italic">Erysipelotrichaceae_uncultured</text>
<line x1="1111.00" y1="376.88" x2="1116.00" y2="376.88" stroke="#333333" stroke-width="1.2"/>
<text x="1108.00" y="381.18" font-size="12.3" fill="#4d4d4d" text-anchor="end" font-weight="bold" font-style="italic">Erysipelotrichaceae_UCG.006</text>
<line x1="1111.00" y1="389.89" x2="1116.00" y2="389.89" stroke="#333333" stroke-width="1.2"/>
<text x="1108.00" y="394.19" font-size="12.3" fill="#4d4d4d" text-anchor="end" font-weight="bold" font-style="italic">Atopobiaceae_uncultured</text>
<line x1="1111.00" y1="402.89" x2="1116.00" y2="402.89" stroke="#333333" stroke-width="1.2"/>
<text x="1108.00" y="407.19" font-size="12.3" fill="#4d4d4d" text-anchor="end" font-weight="bold" font-style="italic">Enterorhabdus</text>
<line x1="1111.00" y1="415.89" x2="1116.00" y2="415.89" stroke="#333333" stroke-width="1.2"/>
<text x="1108.00" y="420.19" font-size="12.3" fill="#4d4d4d" text-anchor="end" font-weight="bold" font-style="italic">Phocea</text>
<line x1="1111.00" y1="428.90" x2="1116.00" y2="428.90" stroke="#333333" stroke-width="1.2"/>
<text x="1108.00" y="433.20" font-size="12.3" fill="#4d4d4d" text-anchor="end" font-weight="bold" font-style="italic">Victivallis</text>
<line x1="1111.00" y1="441.90" x2="1116.00" y2="441.90" stroke="#333333" stroke-width="1.2"/>
<text x="1108.00" y="446.20" font-size="12.3" fill="#4d4d4d" text-anchor="end" font-weight="bold" font-style="italic">Desulfovibrionaceae_uncultured</text>
<line x1="1111.00" y1="454.90" x2="1116.00" y2="454.90" stroke="#333333" stroke-width="1.2"/>
<text x="1108.00" y="459.20" font-size="12.3" fill="#4d4d4d" text-anchor="end" font-weight="bold" font-style="italic">Bilophila</text>
<line x1="1111.00" y1="467.91" x2="1116.00" y2="467.91" stroke="#333333" stroke-width="1.2"/>
<text x="1108.00" y="472.21" font-size="12.3" fill="#4d4d4d" text-anchor="end" font-weight="bold" font-style="italic">X.Eubacterium._ruminantium_group</text>
<line x1="1111.00" y1="480.91" x2="1116.00" y2="480.91" stroke="#333333" stroke-width="1.2"/>
<text x="1108.00" y="485.21" font-size="12.3" fill="#4d4d4d" text-anchor="end" font-weight="bold" font-style="italic">Parasutterella</text>
<line x1="1111.00" y1="493.91" x2="1116.00" y2="493.91" stroke="#333333" stroke-width="1.2"/>
<text x="1108.00" y="498.21" font-size="12.3" fill="#4d4d4d" text-anchor="end" font-weight="bold" font-style="italic">Olsenella</text>
<line x1="1111.00" y1="506.92" x2="1116.00" y2="506.92" stroke="#333333" stroke-width="1.2"/>
<text x="1108.00" y="511.22" font-size="12.3" fill="#4d4d4d" text-anchor="end" font-weight="bold" font-style="italic">Family_XIII_AD3011_group</text>
<line x1="1111.00" y1="519.92" x2="1116.00" y2="519.92" stroke="#333333" stroke-width="1.2"/>
<text x="1108.00" y="524.22" font-size="12.3" fill="#4d4d4d" text-anchor="end" font-weight="bold" font-style="italic">X.Eubacterium._siraeum_group</text>
<line x1="1111.00" y1="532.92" x2="1116.00" y2="532.92" stroke="#333333" stroke-width="1.2"/>
<text x="1108.00" y="537.22" font-size="12.3" fill="#4d4d4d" text-anchor="end" font-weight="bold" font-style="italic">Holdemania</text>
<line x1="1111.00" y1="545.93" x2="1116.00" y2="545.93" stroke="#333333" stroke-width="1.2"/>
<text x="1108.00" y="550.23" font-size="12.3" fill="#4d4d4d" text-anchor="end" font-weight="bold" font-style="italic">Mogibacterium</text>
<line x1="1111.00" y1="558.93" x2="1116.00" y2="558.93" stroke="#333333" stroke-width="1.2"/>
<text x="1108.00" y="563.23" font-size="12.3" fill="#4d4d4d" text-anchor="end" font-weight="bold" font-style="italic">UBA1819</text>
<line x1="1111.00" y1="571.93" x2="1116.00" y2="571.93" stroke="#333333" stroke-width="1.2"/>
<text x="1108.00" y="576.23" font-size="12.3" fill="#4d4d4d" text-anchor="end" font-weight="bold" font-style="italic">Chloroplast</text>
<line x1="1111.00" y1="584.93" x2="1116.00" y2="584.93" stroke="#333333" stroke-width="1.2"/>
<text x="1108.00" y="589.23" font-size="12.3" fill="#4d4d4d" text-anchor="end" font-weight="bold" font-style="italic">X.Eubacterium._eligens_group</text>
<line x1="1111.00" y1="597.94" x2="1116.00" y2="597.94" stroke="#333333" stroke-width="1.2"/>
<text x="1108.00" y="602.24" font-size="12.3" fill="#4d4d4d" text-anchor="end" font-weight="bold" font-style="italic">Butyricimonas</text>
<line x1="1111.00" y1="610.94" x2="1116.00" y2="610.94" stroke="#333333" stroke-width="1.2"/>
<text x="1108.00" y="615.24" font-size="12.3" fill="#4d4d4d" text-anchor="end" font-weight="bold" font-style="italic">Negativibacillus</text>
<line x1="1111.00" y1="623.94" x2="1116.00" y2="623.94" stroke="#333333" stroke-width="1.2"/>
<text x="1108.00" y="628.24" font-size="12.3" fill="#4d4d4d" text-anchor="end" font-weight="bold" font-style="italic">Flavonifractor</text>
<line x1="1111.00" y1="636.95" x2="1116.00" y2="636.95" stroke="#333333" stroke-width="1.2"/>
<text x="1108.00" y="641.25" font-size="12.3" fill="#4d4d4d" text-anchor="end" font-weight="bold" font-style="italic">Veillonella</text>
<line x1="1111.00" y1="649.95" x2="1116.00" y2="649.95" stroke="#333333" stroke-width="1.2"/>
<text x="1108.00" y="654.25" font-size="12.3" fill="#4d4d4d" text-anchor="end" font-weight="bold" font-style="italic">Enterobacter</text>
<line x1="1111.00" y1="662.95" x2="1116.00" y2="662.95" stroke="#333333" stroke-width="1.2"/>
<text x="1108.00" y="667.25" font-size="12.3" fill="#4d4d4d" text-anchor="end" font-weight="bold" font-style="italic">Slackia</text>
<line x1="1111.00" y1="675.96" x2="1116.00" y2="675.96" stroke="#333333" stroke-width="1.2"/>
<text x="1108.00" y="680.26" font-size="12.3" fill="#4d4d4d" text-anchor="end" font-weight="bold" font-style="italic">Paraprevotella</text>
<line x1="1111.00" y1="688.96" x2="1116.00" y2="688.96" stroke="#333333" stroke-width="1.2"/>
<text x="1108.00" y="693.26" font-size="12.3" fill="#4d4d4d" text-anchor="end" font-weight="bold" font-style="italic">UCG.003</text>
<line x1="1111.00" y1="701.96" x2="1116.00" y2="701.96" stroke="#333333" stroke-width="1.2"/>
<text x="1108.00" y="706.26" font-size="12.3" fill="#4d4d4d" text-anchor="end" font-weight="bold" font-style="italic">Lachnospiraceae_UCG.004</text>
<line x1="1111.00" y1="714.97" x2="1116.00" y2="714.97" stroke="#333333" stroke-width="1.2"/>
<text x="1108.00" y="719.27" font-size="12.3" fill="#4d4d4d" text-anchor="end" font-weight="bold" font-style="italic">Odoribacter</text>
<line x1="1111.00" y1="727.97" x2="1116.00" y2="727.97" stroke="#333333" stroke-width="1.2"/>
<text x="1108.00" y="732.27" font-size="12.3" fill="#4d4d4d" text-anchor="end" font-weight="bold" font-style="italic">Oscillospiraceae_uncultured</text>
<line x1="1111.00" y1="740.97" x2="1116.00" y2="740.97" stroke="#333333" stroke-width="1.2"/>
<text x="1108.00" y="745.27" font-size="12.3" fill="#4d4d4d" text-anchor="end" font-weight="bold" font-style="italic">Collinsella</text>
<line x1="1111.00" y1="753.98" x2="1116.00" y2="753.98" stroke="#333333" stroke-width="1.2"/>
<text x="1108.00" y="758.28" font-size="12.3" fill="#4d4d4d" text-anchor="end" font-weight="bold" font-style="italic">Oscillibacter</text>
<line x1="1111.00" y1="766.98" x2="1116.00" y2="766.98" stroke="#333333" stroke-width="1.2"/>
<text x="1108.00" y="771.28" font-size="12.3" fill="#4d4d4d" text-anchor="end" font-weight="bold" font-style="italic">Parabacteroides</text>
<line x1="1111.00" y1="779.98" x2="1116.00" y2="779.98" stroke="#333333" stroke-width="1.2"/>
<text x="1108.00" y="784.28" font-size="12.3" fill="#4d4d4d" text-anchor="end" font-weight="bold" font-style="italic">Sutterella</text>
<line x1="1111.00" y1="792.99" x2="1116.00" y2="792.99" stroke="#333333" stroke-width="1.2"/>
<text x="1108.00" y="797.29" font-size="12.3" fill="#4d4d4d" text-anchor="end" font-weight="bold" font-style="italic">Lachnoclostridium</text>
<line x1="1111.00" y1="805.99" x2="1116.00" y2="805.99" stroke="#333333" stroke-width="1.2"/>
<text x="1108.00" y="810.29" font-size="12.3" fill="#4d4d4d" text-anchor="end" font-weight="bold" font-style="italic">Alistipes</text>
<line x1="1111.00" y1="818.99" x2="1116.00" y2="818.99" stroke="#333333" stroke-width="1.2"/>
<text x="1108.00" y="823.29" font-size="12.3" fill="#4d4d4d" text-anchor="end" font-weight="bold" font-style="italic">Prevotella</text>
<line x1="1111.00" y1="831.99" x2="1116.00" y2="831.99" stroke="#333333" stroke-width="1.2"/>
<text x="1108.00" y="836.29" font-size="12.3" fill="#4d4d4d" text-anchor="end" font-weight="bold" font-style="italic">Lachnospiraceae_uncultured</text>
<line x1="1111.00" y1="845.00" x2="1116.00" y2="845.00" stroke="#333333" stroke-width="1.2"/>
<text x="1108.00" y="849.30" font-size="12.3" fill="#4d4d4d" text-anchor="end" font-weight="bold" font-style="italic">Bacteroides</text>
<line x1="1152.24" y1="852.80" x2="1152.24" y2="857.30" stroke="#333333" stroke-width="1.2"/>
<text transform="translate(1156.54,870.00) rotate(-90)" font-size="12.3" fill="#4d4d4d" text-anchor="middle">-60</text>
<line x1="1282.56" y1="852.80" x2="1282.56" y2="857.30" stroke="#333333" stroke-width="1.2"/>
<text transform="translate(1286.86,870.00) rotate(-90)" font-size="12.3" fill="#4d4d4d" text-anchor="middle">-40</text>
<line x1="1412.88" y1="852.80" x2="1412.88" y2="857.30" stroke="#333333" stroke-width="1.2"/>
<text transform="translate(1417.18,870.00) rotate(-90)" font-size="12.3" fill="#4d4d4d" text-anchor="middle">-20</text>
<line x1="1543.20" y1="852.80" x2="1543.20" y2="857.30" stroke="#333333" stroke-width="1.2"/>
<text transform="translate(1547.50,870.00) rotate(-90)" font-size="12.3" fill="#4d4d4d" text-anchor="middle">0</text>
<line x1="1673.52" y1="852.80" x2="1673.52" y2="857.30" stroke="#333333" stroke-width="1.2"/>
<text transform="translate(1677.82,870.00) rotate(-90)" font-size="12.3" fill="#4d4d4d" text-anchor="middle">20</text>
<text x="1441.75" y="895.10" font-size="12.3" fill="#000" text-anchor="middle" font-weight="bold" font-style="normal">Coefficients</text>
<text transform="translate(25.7,448) rotate(-90)" font-size="12.3" font-weight="bold" text-anchor="middle">Genus</text>
<text transform="translate(3.50,21.30) scale(1,1.06)" font-size="19.5" fill="#000" text-anchor="start" font-weight="normal" font-style="normal">A</text>
<text x="772.50" y="956.30" font-size="12.2" fill="#000" text-anchor="start" font-weight="normal" font-style="normal">Category</text>
<rect x="830.50" y="939.50" width="24.50" height="24.30" fill="#d70000"/>
<text x="862.50" y="956.30" font-size="12.2" fill="#000" text-anchor="start" font-weight="normal" font-style="normal">Enriched</text>
<rect x="918.30" y="939.50" width="24.50" height="24.30" fill="#4f67db"/>
<text x="950.50" y="956.30" font-size="12.2" fill="#000" text-anchor="start" font-weight="normal" font-style="normal">Reduced</text>
<rect x="65.40" y="1025.10" width="277.60" height="839.00" fill="#ffffff"/>
<line x1="65.40" y1="1779.20" x2="343.00" y2="1779.20" stroke="#f0f0f0" stroke-width="0.8"/>
<line x1="65.40" y1="1620.00" x2="343.00" y2="1620.00" stroke="#f0f0f0" stroke-width="0.8"/>
<line x1="65.40" y1="1460.80" x2="343.00" y2="1460.80" stroke="#f0f0f0" stroke-width="0.8"/>
<line x1="65.40" y1="1301.60" x2="343.00" y2="1301.60" stroke="#f0f0f0" stroke-width="0.8"/>
<line x1="65.40" y1="1142.40" x2="343.00" y2="1142.40" stroke="#f0f0f0" stroke-width="0.8"/>
<line x1="65.40" y1="1858.80" x2="343.00" y2="1858.80" stroke="#ebebeb" stroke-width="1.1"/>
<line x1="65.40" y1="1699.60" x2="343.00" y2="1699.60" stroke="#ebebeb" stroke-width="1.1"/>
<line x1="65.40" y1="1540.40" x2="343.00" y2="1540.40" stroke="#ebebeb" stroke-width="1.1"/>
<line x1="65.40" y1="1381.20" x2="343.00" y2="1381.20" stroke="#ebebeb" stroke-width="1.1"/>
<line x1="65.40" y1="1222.00" x2="343.00" y2="1222.00" stroke="#ebebeb" stroke-width="1.1"/>
<line x1="65.40" y1="1062.80" x2="343.00" y2="1062.80" stroke="#ebebeb" stroke-width="1.1"/>
<line x1="117.20" y1="1025.10" x2="117.20" y2="1864.10" stroke="#ebebeb" stroke-width="1.1"/>
<line x1="204.20" y1="1025.10" x2="204.20" y2="1864.10" stroke="#ebebeb" stroke-width="1.1"/>
<line x1="290.90" y1="1025.10" x2="290.90" y2="1864.10" stroke="#ebebeb" stroke-width="1.1"/>
<line x1="117.20" y1="1442.20" x2="117.20" y2="1610.60" stroke="#c24b63" stroke-width="1.6"/>
<line x1="117.20" y1="1762.10" x2="117.20" y2="1826.00" stroke="#c24b63" stroke-width="1.6"/>
<rect x="86.75" y="1610.60" width="60.90" height="151.50" fill="#ffffff" stroke="#c24b63" stroke-width="1.6"/>
<line x1="86.75" y1="1700.20" x2="147.65" y2="1700.20" stroke="#c24b63" stroke-width="3.0"/>
<line x1="204.20" y1="1711.30" x2="204.20" y2="1731.00" stroke="#76b1e4" stroke-width="1.6"/>
<line x1="204.20" y1="1753.40" x2="204.20" y2="1778.80" stroke="#76b1e4" stroke-width="1.6"/>
<rect x="173.75" y="1731.00" width="60.90" height="22.40" fill="#ffffff" stroke="#76b1e4" stroke-width="1.6"/>
<line x1="173.75" y1="1745.50" x2="234.65" y2="1745.50" stroke="#76b1e4" stroke-width="3.0"/>
<line x1="290.90" y1="1521.70" x2="290.90" y2="1633.50" stroke="#e3a128" stroke-width="1.6"/>
<line x1="290.90" y1="1727.40" x2="290.90" y2="1745.30" stroke="#e3a128" stroke-width="1.6"/>
<rect x="260.45" y="1633.50" width="60.90" height="93.90" fill="#ffffff" stroke="#e3a128" stroke-width="1.6"/>
<line x1="260.45" y1="1716.40" x2="321.35" y2="1716.40" stroke="#e3a128" stroke-width="3.0"/>
<circle cx="122.2" cy="1313.2" r="3.4" fill="#c24b63"/>
<circle cx="107.0" cy="1442.3" r="3.4" fill="#c24b63"/>
<circle cx="120.6" cy="1465.5" r="3.4" fill="#c24b63"/>
<circle cx="105.7" cy="1470.0" r="3.4" fill="#c24b63"/>
<circle cx="116.6" cy="1478.0" r="3.4" fill="#c24b63"/>
<circle cx="110.0" cy="1532.2" r="3.4" fill="#c24b63"/>
<circle cx="123.7" cy="1543.1" r="3.4" fill="#c24b63"/>
<circle cx="113.9" cy="1550.8" r="3.4" fill="#c24b63"/>
<circle cx="102.6" cy="1564.8" r="3.4" fill="#c24b63"/>
<circle cx="101.4" cy="1577.2" r="3.4" fill="#c24b63"/>
<circle cx="108.7" cy="1579.2" r="3.4" fill="#c24b63"/>
<circle cx="113.0" cy="1579.9" r="3.4" fill="#c24b63"/>
<circle cx="125.5" cy="1576.6" r="3.4" fill="#c24b63"/>
<circle cx="127.4" cy="1579.2" r="3.4" fill="#c24b63"/>
<circle cx="132.8" cy="1573.4" r="3.4" fill="#c24b63"/>
<circle cx="132.8" cy="1584.7" r="3.4" fill="#c24b63"/>
<circle cx="104.6" cy="1586.9" r="3.4" fill="#c24b63"/>
<circle cx="100.6" cy="1602.5" r="3.4" fill="#c24b63"/>
<circle cx="108.9" cy="1603.7" r="3.4" fill="#c24b63"/>
<circle cx="119.7" cy="1600.2" r="3.4" fill="#c24b63"/>
<circle cx="127.9" cy="1608.2" r="3.4" fill="#c24b63"/>
<circle cx="104.1" cy="1611.7" r="3.4" fill="#c24b63"/>
<circle cx="118.9" cy="1610.7" r="3.4" fill="#c24b63"/>
<circle cx="128.2" cy="1636.6" r="3.4" fill="#c24b63"/>
<circle cx="112.5" cy="1642.7" r="3.4" fill="#c24b63"/>
<circle cx="114.9" cy="1647.5" r="3.4" fill="#c24b63"/>
<circle cx="104.4" cy="1662.2" r="3.4" fill="#c24b63"/>
<circle cx="111.2" cy="1659.7" r="3.4" fill="#c24b63"/>
<circle cx="114.2" cy="1662.2" r="3.4" fill="#c24b63"/>
<circle cx="119.4" cy="1671.4" r="3.4" fill="#c24b63"/>
<circle cx="125.2" cy="1671.4" r="3.4" fill="#c24b63"/>
<circle cx="129.2" cy="1671.6" r="3.4" fill="#c24b63"/>
<circle cx="112.2" cy="1677.3" r="3.4" fill="#c24b63"/>
<circle cx="111.7" cy="1679.5" r="3.4" fill="#c24b63"/>
<circle cx="119.2" cy="1678.0" r="3.4" fill="#c24b63"/>
<circle cx="108.7" cy="1688.9" r="3.4" fill="#c24b63"/>
<circle cx="122.2" cy="1688.1" r="3.4" fill="#c24b63"/>
<circle cx="127.2" cy="1684.6" r="3.4" fill="#c24b63"/>
<circle cx="133.3" cy="1688.9" r="3.4" fill="#c24b63"/>
<circle cx="118.0" cy="1696.3" r="3.4" fill="#c24b63"/>
<circle cx="128.7" cy="1704.3" r="3.4" fill="#c24b63"/>
<circle cx="120.7" cy="1715.2" r="3.4" fill="#c24b63"/>
<circle cx="133.8" cy="1723.7" r="3.4" fill="#c24b63"/>
<circle cx="106.6" cy="1733.8" r="3.4" fill="#c24b63"/>
<circle cx="112.0" cy="1738.3" r="3.4" fill="#c24b63"/>
<circle cx="119.0" cy="1731.7" r="3.4" fill="#c24b63"/>
<circle cx="124.7" cy="1733.8" r="3.4" fill="#c24b63"/>
<circle cx="99.9" cy="1746.1" r="3.4" fill="#c24b63"/>
<circle cx="119.2" cy="1743.5" r="3.4" fill="#c24b63"/>
<circle cx="126.0" cy="1747.1" r="3.4" fill="#c24b63"/>
<circle cx="106.3" cy="1752.1" r="3.4" fill="#c24b63"/>
<circle cx="104.6" cy="1755.1" r="3.4" fill="#c24b63"/>
<circle cx="118.9" cy="1752.5" r="3.4" fill="#c24b63"/>
<circle cx="131.0" cy="1752.8" r="3.4" fill="#c24b63"/>
<circle cx="103.4" cy="1760.9" r="3.4" fill="#c24b63"/>
<circle cx="110.2" cy="1760.4" r="3.4" fill="#c24b63"/>
<circle cx="115.7" cy="1759.4" r="3.4" fill="#c24b63"/>
<circle cx="113.2" cy="1763.9" r="3.4" fill="#c24b63"/>
<circle cx="115.2" cy="1766.9" r="3.4" fill="#c24b63"/>
<circle cx="130.9" cy="1759.6" r="3.4" fill="#c24b63"/>
<circle cx="125.0" cy="1765.9" r="3.4" fill="#c24b63"/>
<circle cx="126.7" cy="1772.2" r="3.4" fill="#c24b63"/>
<circle cx="118.9" cy="1775.4" r="3.4" fill="#c24b63"/>
<circle cx="123.2" cy="1775.9" r="3.4" fill="#c24b63"/>
<circle cx="100.9" cy="1775.9" r="3.4" fill="#c24b63"/>
<circle cx="109.0" cy="1777.9" r="3.4" fill="#c24b63"/>
<circle cx="133.1" cy="1777.2" r="3.4" fill="#c24b63"/>
<circle cx="100.1" cy="1784.0" r="3.4" fill="#c24b63"/>
<circle cx="104.6" cy="1786.0" r="3.4" fill="#c24b63"/>
<circle cx="109.4" cy="1786.5" r="3.4" fill="#c24b63"/>
<circle cx="107.3" cy="1791.5" r="3.4" fill="#c24b63"/>
<circle cx="127.7" cy="1785.0" r="3.4" fill="#c24b63"/>
<circle cx="131.4" cy="1789.5" r="3.4" fill="#c24b63"/>
<circle cx="134.3" cy="1791.7" r="3.4" fill="#c24b63"/>
<circle cx="117.2" cy="1797.0" r="3.4" fill="#c24b63"/>
<circle cx="101.6" cy="1802.5" r="3.4" fill="#c24b63"/>
<circle cx="107.7" cy="1806.5" r="3.4" fill="#c24b63"/>
<circle cx="127.7" cy="1819.8" r="3.4" fill="#c24b63"/>
<circle cx="124.5" cy="1826.4" r="3.4" fill="#c24b63"/>
<circle cx="203.5" cy="1665.4" r="3.4" fill="#76b1e4"/>
<circle cx="196.1" cy="1712.9" r="3.4" fill="#76b1e4"/>
<circle cx="194.9" cy="1715.2" r="3.4" fill="#76b1e4"/>
<circle cx="211.4" cy="1710.7" r="3.4" fill="#76b1e4"/>
<circle cx="187.0" cy="1721.2" r="3.4" fill="#76b1e4"/>
<circle cx="194.2" cy="1724.6" r="3.4" fill="#76b1e4"/>
<circle cx="200.2" cy="1723.5" r="3.4" fill="#76b1e4"/>
<circle cx="220.9" cy="1720.5" r="3.4" fill="#76b1e4"/>
<circle cx="219.8" cy="1722.3" r="3.4" fill="#76b1e4"/>
<circle cx="187.3" cy="1731.0" r="3.4" fill="#76b1e4"/>
<circle cx="201.0" cy="1731.4" r="3.4" fill="#76b1e4"/>
<circle cx="205.5" cy="1731.0" r="3.4" fill="#76b1e4"/>
<circle cx="198.0" cy="1735.2" r="3.4" fill="#76b1e4"/>
<circle cx="210.0" cy="1734.0" r="3.4" fill="#76b1e4"/>
<circle cx="220.6" cy="1737.0" r="3.4" fill="#76b1e4"/>
<circle cx="201.3" cy="1740.4" r="3.4" fill="#76b1e4"/>
<circle cx="211.9" cy="1742.7" r="3.4" fill="#76b1e4"/>
<circle cx="194.2" cy="1745.3" r="3.4" fill="#76b1e4"/>
<circle cx="207.8" cy="1745.0" r="3.4" fill="#76b1e4"/>
<circle cx="216.4" cy="1748.3" r="3.4" fill="#76b1e4"/>
<circle cx="188.2" cy="1750.6" r="3.4" fill="#76b1e4"/>
<circle cx="193.4" cy="1749.5" r="3.4" fill="#76b1e4"/>
<circle cx="187.4" cy="1753.2" r="3.4" fill="#76b1e4"/>
<circle cx="200.2" cy="1754.0" r="3.4" fill="#76b1e4"/>
<circle cx="211.1" cy="1755.1" r="3.4" fill="#76b1e4"/>
<circle cx="213.8" cy="1751.0" r="3.4" fill="#76b1e4"/>
<circle cx="202.5" cy="1759.3" r="3.4" fill="#76b1e4"/>
<circle cx="195.7" cy="1760.4" r="3.4" fill="#76b1e4"/>
<circle cx="218.7" cy="1759.6" r="3.4" fill="#76b1e4"/>
<circle cx="187.9" cy="1767.9" r="3.4" fill="#76b1e4"/>
<circle cx="201.9" cy="1766.8" r="3.4" fill="#76b1e4"/>
<circle cx="204.0" cy="1778.5" r="3.4" fill="#76b1e4"/>
<circle cx="282.7" cy="1521.3" r="3.4" fill="#e3a128"/>
<circle cx="281.8" cy="1624.3" r="3.4" fill="#e3a128"/>
<circle cx="289.6" cy="1629.6" r="3.4" fill="#e3a128"/>
<circle cx="297.8" cy="1631.2" r="3.4" fill="#e3a128"/>
<circle cx="284.6" cy="1640.3" r="3.4" fill="#e3a128"/>
<circle cx="302.9" cy="1648.4" r="3.4" fill="#e3a128"/>
<circle cx="277.2" cy="1711.5" r="3.4" fill="#e3a128"/>
<circle cx="280.7" cy="1713.1" r="3.4" fill="#e3a128"/>
<circle cx="298.5" cy="1719.3" r="3.4" fill="#e3a128"/>
<circle cx="276.3" cy="1725.8" r="3.4" fill="#e3a128"/>
<circle cx="289.3" cy="1724.1" r="3.4" fill="#e3a128"/>
<circle cx="302.0" cy="1724.5" r="3.4" fill="#e3a128"/>
<circle cx="299.0" cy="1727.8" r="3.4" fill="#e3a128"/>
<circle cx="281.8" cy="1730.4" r="3.4" fill="#e3a128"/>
<circle cx="298.4" cy="1733.0" r="3.4" fill="#e3a128"/>
<circle cx="289.3" cy="1738.9" r="3.4" fill="#e3a128"/>
<circle cx="292.5" cy="1745.4" r="3.4" fill="#e3a128"/>
<circle cx="277.3" cy="1492.2" r="3.4" fill="#e3a128"/>
<circle cx="204.0" cy="1736.7" r="3.4" fill="#76b1e4"/>
<circle cx="206.2" cy="1740.0" r="3.4" fill="#76b1e4"/>
<circle cx="190.4" cy="1749.5" r="3.4" fill="#76b1e4"/>
<circle cx="212.3" cy="1739.6" r="3.4" fill="#76b1e4"/>
<circle cx="197.2" cy="1742.7" r="3.4" fill="#76b1e4"/>
<circle cx="217.5" cy="1753.2" r="3.4" fill="#76b1e4"/>
<rect x="65.40" y="1025.10" width="277.60" height="839.30" fill="none" stroke="#3a3a3a" stroke-width="1.35"/>
<line x1="60.90" y1="1858.80" x2="65.40" y2="1858.80" stroke="#333333" stroke-width="1.5"/>
<text transform="translate(57.40,1863.70) scale(1,1.05)" font-size="13" fill="#4d4d4d" text-anchor="end" font-weight="normal" font-style="normal">-20</text>
<line x1="60.90" y1="1699.60" x2="65.40" y2="1699.60" stroke="#333333" stroke-width="1.5"/>
<text transform="translate(57.40,1704.50) scale(1,1.05)" font-size="13" fill="#4d4d4d" text-anchor="end" font-weight="normal" font-style="normal">0</text>
<line x1="60.90" y1="1540.40" x2="65.40" y2="1540.40" stroke="#333333" stroke-width="1.5"/>
<text transform="translate(57.40,1545.30) scale(1,1.05)" font-size="13" fill="#4d4d4d" text-anchor="end" font-weight="normal" font-style="normal">20</text>
<line x1="60.90" y1="1381.20" x2="65.40" y2="1381.20" stroke="#333333" stroke-width="1.5"/>
<text transform="translate(57.40,1386.10) scale(1,1.05)" font-size="13" fill="#4d4d4d" text-anchor="end" font-weight="normal" font-style="normal">40</text>
<line x1="60.90" y1="1222.00" x2="65.40" y2="1222.00" stroke="#333333" stroke-width="1.5"/>
<text transform="translate(57.40,1226.90) scale(1,1.05)" font-size="13" fill="#4d4d4d" text-anchor="end" font-weight="normal" font-style="normal">60</text>
<line x1="60.90" y1="1062.80" x2="65.40" y2="1062.80" stroke="#333333" stroke-width="1.5"/>
<text transform="translate(57.40,1067.70) scale(1,1.05)" font-size="13" fill="#4d4d4d" text-anchor="end" font-weight="normal" font-style="normal">80</text>
<line x1="117.20" y1="1864.10" x2="117.20" y2="1868.60" stroke="#333333" stroke-width="1.5"/>
<line x1="204.20" y1="1864.10" x2="204.20" y2="1868.60" stroke="#333333" stroke-width="1.5"/>
<line x1="290.90" y1="1864.10" x2="290.90" y2="1868.60" stroke="#333333" stroke-width="1.5"/>
<text transform="translate(124.00,1879.70) rotate(-45) scale(1,1.05)" font-size="13.6" fill="#4d4d4d" text-anchor="end">Sarawak Indigenous</text>
<text transform="translate(211.00,1879.70) rotate(-45) scale(1,1.05)" font-size="13.6" fill="#4d4d4d" text-anchor="end">Selangor Indigenous</text>
<text transform="translate(297.70,1879.70) rotate(-45) scale(1,1.05)" font-size="13.6" fill="#4d4d4d" text-anchor="end">Kuala Lumpur Urban</text>
<text transform="translate(204.20,1987.00) scale(1,1.05)" font-size="16.9" fill="#000" text-anchor="middle" font-weight="normal" font-style="normal">Location</text>
<text transform="translate(30.10,1444.60) rotate(-90) scale(1,1.05)" font-size="16.9" text-anchor="middle">Paraprevotella</text>
<text transform="translate(86.10,1063.30) scale(1,1.05)" font-size="13.1" fill="#000" text-anchor="start" font-weight="normal" font-style="normal">Kruskal-Wallis, p = 0.0022</text>
<path d="M204.20,1116.70 V1102.90 H290.90 V1116.70" fill="none" stroke="#333333" stroke-width="1.2"/>
<text transform="translate(247.55,1094.70) scale(1,1.05)" font-size="13.1" fill="#000" text-anchor="middle" font-weight="normal" font-style="normal">2.86e-06</text>
<path d="M117.20,1200.80 V1186.60 H290.90 V1200.80" fill="none" stroke="#333333" stroke-width="1.2"/>
<text transform="translate(204.05,1178.40) scale(1,1.05)" font-size="13.1" fill="#000" text-anchor="middle" font-weight="normal" font-style="normal">0.305</text>
<path d="M117.20,1284.50 V1270.70 H204.20 V1284.50" fill="none" stroke="#333333" stroke-width="1.2"/>
<text transform="translate(160.70,1262.30) scale(1,1.05)" font-size="13.1" fill="#000" text-anchor="middle" font-weight="normal" font-style="normal">0.055</text>
<text transform="translate(4.00,1022.70) scale(1,1.06)" font-size="19.5" fill="#000" text-anchor="start" font-weight="normal" font-style="normal">B</text>
<rect x="418.40" y="1025.10" width="280.30" height="839.00" fill="#ffffff"/>
<line x1="418.40" y1="1618.20" x2="698.70" y2="1618.20" stroke="#f0f0f0" stroke-width="0.8"/>
<line x1="418.40" y1="1371.80" x2="698.70" y2="1371.80" stroke="#f0f0f0" stroke-width="0.8"/>
<line x1="418.40" y1="1125.40" x2="698.70" y2="1125.40" stroke="#f0f0f0" stroke-width="0.8"/>
<line x1="418.40" y1="1741.40" x2="698.70" y2="1741.40" stroke="#ebebeb" stroke-width="1.1"/>
<line x1="418.40" y1="1495.00" x2="698.70" y2="1495.00" stroke="#ebebeb" stroke-width="1.1"/>
<line x1="418.40" y1="1248.60" x2="698.70" y2="1248.60" stroke="#ebebeb" stroke-width="1.1"/>
<line x1="470.50" y1="1025.10" x2="470.50" y2="1864.10" stroke="#ebebeb" stroke-width="1.1"/>
<line x1="558.40" y1="1025.10" x2="558.40" y2="1864.10" stroke="#ebebeb" stroke-width="1.1"/>
<line x1="646.50" y1="1025.10" x2="646.50" y2="1864.10" stroke="#ebebeb" stroke-width="1.1"/>
<line x1="470.50" y1="1518.10" x2="470.50" y2="1629.50" stroke="#c24b63" stroke-width="1.6"/>
<line x1="470.50" y1="1747.70" x2="470.50" y2="1825.90" stroke="#c24b63" stroke-width="1.6"/>
<rect x="439.74" y="1629.50" width="61.53" height="118.20" fill="#ffffff" stroke="#c24b63" stroke-width="1.6"/>
<line x1="439.74" y1="1666.40" x2="501.26" y2="1666.40" stroke="#c24b63" stroke-width="3.0"/>
<line x1="558.40" y1="1749.30" x2="558.40" y2="1764.20" stroke="#76b1e4" stroke-width="1.6"/>
<line x1="558.40" y1="1780.20" x2="558.40" y2="1798.10" stroke="#76b1e4" stroke-width="1.6"/>
<rect x="527.63" y="1764.20" width="61.53" height="16.00" fill="#ffffff" stroke="#76b1e4" stroke-width="1.6"/>
<line x1="527.63" y1="1774.30" x2="589.16" y2="1774.30" stroke="#76b1e4" stroke-width="3.0"/>
<line x1="646.50" y1="1619.70" x2="646.50" y2="1688.80" stroke="#e3a128" stroke-width="1.6"/>
<line x1="646.50" y1="1758.50" x2="646.50" y2="1774.70" stroke="#e3a128" stroke-width="1.6"/>
<rect x="615.74" y="1688.80" width="61.53" height="69.70" fill="#ffffff" stroke="#e3a128" stroke-width="1.6"/>
<line x1="615.74" y1="1729.00" x2="677.26" y2="1729.00" stroke="#e3a128" stroke-width="3.0"/>
<circle cx="465.2" cy="1319.8" r="3.4" fill="#c24b63"/>
<circle cx="484.3" cy="1517.6" r="3.4" fill="#c24b63"/>
<circle cx="486.3" cy="1518.6" r="3.4" fill="#c24b63"/>
<circle cx="480.2" cy="1523.1" r="3.4" fill="#c24b63"/>
<circle cx="466.7" cy="1530.6" r="3.4" fill="#c24b63"/>
<circle cx="463.7" cy="1557.4" r="3.4" fill="#c24b63"/>
<circle cx="483.1" cy="1566.4" r="3.4" fill="#c24b63"/>
<circle cx="459.7" cy="1570.8" r="3.4" fill="#c24b63"/>
<circle cx="462.2" cy="1569.3" r="3.4" fill="#c24b63"/>
<circle cx="468.2" cy="1570.8" r="3.4" fill="#c24b63"/>
<circle cx="456.6" cy="1578.3" r="3.4" fill="#c24b63"/>
<circle cx="458.7" cy="1575.3" r="3.4" fill="#c24b63"/>
<circle cx="474.5" cy="1578.8" r="3.4" fill="#c24b63"/>
<circle cx="480.7" cy="1582.8" r="3.4" fill="#c24b63"/>
<circle cx="479.2" cy="1585.8" r="3.4" fill="#c24b63"/>
<circle cx="481.7" cy="1590.3" r="3.4" fill="#c24b63"/>
<circle cx="477.7" cy="1594.9" r="3.4" fill="#c24b63"/>
<circle cx="486.1" cy="1595.9" r="3.4" fill="#c24b63"/>
<circle cx="485.5" cy="1610.6" r="3.4" fill="#c24b63"/>
<circle cx="455.1" cy="1623.0" r="3.4" fill="#c24b63"/>
<circle cx="473.5" cy="1628.0" r="3.4" fill="#c24b63"/>
<circle cx="479.2" cy="1632.0" r="3.4" fill="#c24b63"/>
<circle cx="485.8" cy="1632.5" r="3.4" fill="#c24b63"/>
<circle cx="460.7" cy="1634.5" r="3.4" fill="#c24b63"/>
<circle cx="460.7" cy="1637.5" r="3.4" fill="#c24b63"/>
<circle cx="477.7" cy="1637.5" r="3.4" fill="#c24b63"/>
<circle cx="483.3" cy="1637.5" r="3.4" fill="#c24b63"/>
<circle cx="482.2" cy="1641.5" r="3.4" fill="#c24b63"/>
<circle cx="477.7" cy="1644.1" r="3.4" fill="#c24b63"/>
<circle cx="480.7" cy="1647.1" r="3.4" fill="#c24b63"/>
<circle cx="463.7" cy="1649.6" r="3.4" fill="#c24b63"/>
<circle cx="471.4" cy="1651.1" r="3.4" fill="#c24b63"/>
<circle cx="456.1" cy="1656.6" r="3.4" fill="#c24b63"/>
<circle cx="455.6" cy="1660.1" r="3.4" fill="#c24b63"/>
<circle cx="457.7" cy="1663.1" r="3.4" fill="#c24b63"/>
<circle cx="465.2" cy="1664.6" r="3.4" fill="#c24b63"/>
<circle cx="470.7" cy="1662.1" r="3.4" fill="#c24b63"/>
<circle cx="455.6" cy="1666.6" r="3.4" fill="#c24b63"/>
<circle cx="471.4" cy="1667.1" r="3.4" fill="#c24b63"/>
<circle cx="483.3" cy="1666.1" r="3.4" fill="#c24b63"/>
<circle cx="459.7" cy="1677.7" r="3.4" fill="#c24b63"/>
<circle cx="469.9" cy="1676.5" r="3.4" fill="#c24b63"/>
<circle cx="463.7" cy="1688.7" r="3.4" fill="#c24b63"/>
<circle cx="484.8" cy="1689.2" r="3.4" fill="#c24b63"/>
<circle cx="475.6" cy="1700.4" r="3.4" fill="#c24b63"/>
<circle cx="471.4" cy="1703.0" r="3.4" fill="#c24b63"/>
<circle cx="454.1" cy="1710.9" r="3.4" fill="#c24b63"/>
<circle cx="458.7" cy="1719.1" r="3.4" fill="#c24b63"/>
<circle cx="484.8" cy="1712.6" r="3.4" fill="#c24b63"/>
<circle cx="477.7" cy="1716.6" r="3.4" fill="#c24b63"/>
<circle cx="484.8" cy="1718.1" r="3.4" fill="#c24b63"/>
<circle cx="480.7" cy="1723.6" r="3.4" fill="#c24b63"/>
<circle cx="485.3" cy="1726.6" r="3.4" fill="#c24b63"/>
<circle cx="467.2" cy="1725.1" r="3.4" fill="#c24b63"/>
<circle cx="472.7" cy="1728.1" r="3.4" fill="#c24b63"/>
<circle cx="473.2" cy="1731.1" r="3.4" fill="#c24b63"/>
<circle cx="469.5" cy="1746.7" r="3.4" fill="#c24b63"/>
<circle cx="477.2" cy="1748.2" r="3.4" fill="#c24b63"/>
<circle cx="455.6" cy="1766.1" r="3.4" fill="#c24b63"/>
<circle cx="476.2" cy="1766.1" r="3.4" fill="#c24b63"/>
<circle cx="482.0" cy="1768.8" r="3.4" fill="#c24b63"/>
<circle cx="467.2" cy="1774.8" r="3.4" fill="#c24b63"/>
<circle cx="473.7" cy="1773.3" r="3.4" fill="#c24b63"/>
<circle cx="463.7" cy="1780.8" r="3.4" fill="#c24b63"/>
<circle cx="456.1" cy="1784.9" r="3.4" fill="#c24b63"/>
<circle cx="460.2" cy="1786.9" r="3.4" fill="#c24b63"/>
<circle cx="484.3" cy="1779.3" r="3.4" fill="#c24b63"/>
<circle cx="481.2" cy="1781.8" r="3.4" fill="#c24b63"/>
<circle cx="478.0" cy="1785.9" r="3.4" fill="#c24b63"/>
<circle cx="487.1" cy="1787.6" r="3.4" fill="#c24b63"/>
<circle cx="453.1" cy="1798.4" r="3.4" fill="#c24b63"/>
<circle cx="459.2" cy="1796.4" r="3.4" fill="#c24b63"/>
<circle cx="466.7" cy="1795.9" r="3.4" fill="#c24b63"/>
<circle cx="484.8" cy="1803.9" r="3.4" fill="#c24b63"/>
<circle cx="479.7" cy="1807.0" r="3.4" fill="#c24b63"/>
<circle cx="478.0" cy="1811.7" r="3.4" fill="#c24b63"/>
<circle cx="482.5" cy="1826.5" r="3.4" fill="#c24b63"/>
<circle cx="547.7" cy="1703.3" r="3.4" fill="#76b1e4"/>
<circle cx="546.0" cy="1751.2" r="3.4" fill="#76b1e4"/>
<circle cx="549.1" cy="1752.4" r="3.4" fill="#76b1e4"/>
<circle cx="558.1" cy="1749.7" r="3.4" fill="#76b1e4"/>
<circle cx="549.4" cy="1758.1" r="3.4" fill="#76b1e4"/>
<circle cx="553.6" cy="1759.3" r="3.4" fill="#76b1e4"/>
<circle cx="561.4" cy="1757.2" r="3.4" fill="#76b1e4"/>
<circle cx="552.4" cy="1764.1" r="3.4" fill="#76b1e4"/>
<circle cx="545.1" cy="1766.3" r="3.4" fill="#76b1e4"/>
<circle cx="560.8" cy="1766.6" r="3.4" fill="#76b1e4"/>
<circle cx="575.0" cy="1764.1" r="3.4" fill="#76b1e4"/>
<circle cx="568.0" cy="1770.5" r="3.4" fill="#76b1e4"/>
<circle cx="573.8" cy="1772.9" r="3.4" fill="#76b1e4"/>
<circle cx="551.2" cy="1775.6" r="3.4" fill="#76b1e4"/>
<circle cx="560.8" cy="1775.6" r="3.4" fill="#76b1e4"/>
<circle cx="548.2" cy="1780.4" r="3.4" fill="#76b1e4"/>
<circle cx="556.0" cy="1779.2" r="3.4" fill="#76b1e4"/>
<circle cx="566.2" cy="1778.0" r="3.4" fill="#76b1e4"/>
<circle cx="575.9" cy="1780.4" r="3.4" fill="#76b1e4"/>
<circle cx="548.8" cy="1784.0" r="3.4" fill="#76b1e4"/>
<circle cx="563.8" cy="1784.6" r="3.4" fill="#76b1e4"/>
<circle cx="571.4" cy="1784.6" r="3.4" fill="#76b1e4"/>
<circle cx="553.6" cy="1790.1" r="3.4" fill="#76b1e4"/>
<circle cx="567.4" cy="1791.3" r="3.4" fill="#76b1e4"/>
<circle cx="552.9" cy="1798.5" r="3.4" fill="#76b1e4"/>
<circle cx="557.2" cy="1780.4" r="3.4" fill="#76b1e4"/>
<circle cx="569.2" cy="1780.4" r="3.4" fill="#76b1e4"/>
<circle cx="653.8" cy="1619.5" r="3.4" fill="#e3a128"/>
<circle cx="631.0" cy="1687.0" r="3.4" fill="#e3a128"/>
<circle cx="642.5" cy="1688.2" r="3.4" fill="#e3a128"/>
<circle cx="647.5" cy="1688.6" r="3.4" fill="#e3a128"/>
<circle cx="647.9" cy="1690.4" r="3.4" fill="#e3a128"/>
<circle cx="660.3" cy="1684.3" r="3.4" fill="#e3a128"/>
<circle cx="656.1" cy="1691.3" r="3.4" fill="#e3a128"/>
<circle cx="659.2" cy="1694.1" r="3.4" fill="#e3a128"/>
<circle cx="640.1" cy="1708.1" r="3.4" fill="#e3a128"/>
<circle cx="635.1" cy="1751.0" r="3.4" fill="#e3a128"/>
<circle cx="661.1" cy="1750.1" r="3.4" fill="#e3a128"/>
<circle cx="634.1" cy="1759.6" r="3.4" fill="#e3a128"/>
<circle cx="638.0" cy="1759.2" r="3.4" fill="#e3a128"/>
<circle cx="643.4" cy="1757.8" r="3.4" fill="#e3a128"/>
<circle cx="646.6" cy="1760.1" r="3.4" fill="#e3a128"/>
<circle cx="655.5" cy="1756.5" r="3.4" fill="#e3a128"/>
<circle cx="653.4" cy="1770.5" r="3.4" fill="#e3a128"/>
<circle cx="649.6" cy="1774.1" r="3.4" fill="#e3a128"/>
<circle cx="557.2" cy="1762.3" r="3.4" fill="#76b1e4"/>
<circle cx="554.2" cy="1779.2" r="3.4" fill="#76b1e4"/>
<circle cx="568.0" cy="1775.6" r="3.4" fill="#76b1e4"/>
<circle cx="575.3" cy="1777.4" r="3.4" fill="#76b1e4"/>
<rect x="418.40" y="1025.10" width="280.30" height="839.30" fill="none" stroke="#3a3a3a" stroke-width="1.35"/>
<line x1="413.90" y1="1741.40" x2="418.40" y2="1741.40" stroke="#333333" stroke-width="1.5"/>
<text transform="translate(410.40,1746.30) scale(1,1.05)" font-size="13" fill="#4d4d4d" text-anchor="end" font-weight="normal" font-style="normal">0</text>
<line x1="413.90" y1="1495.00" x2="418.40" y2="1495.00" stroke="#333333" stroke-width="1.5"/>
<text transform="translate(410.40,1499.90) scale(1,1.05)" font-size="13" fill="#4d4d4d" text-anchor="end" font-weight="normal" font-style="normal">40</text>
<line x1="413.90" y1="1248.60" x2="418.40" y2="1248.60" stroke="#333333" stroke-width="1.5"/>
<text transform="translate(410.40,1253.50) scale(1,1.05)" font-size="13" fill="#4d4d4d" text-anchor="end" font-weight="normal" font-style="normal">80</text>
<line x1="470.50" y1="1864.10" x2="470.50" y2="1868.60" stroke="#333333" stroke-width="1.5"/>
<line x1="558.40" y1="1864.10" x2="558.40" y2="1868.60" stroke="#333333" stroke-width="1.5"/>
<line x1="646.50" y1="1864.10" x2="646.50" y2="1868.60" stroke="#333333" stroke-width="1.5"/>
<text transform="translate(477.30,1879.70) rotate(-45) scale(1,1.05)" font-size="13.6" fill="#4d4d4d" text-anchor="end">Sarawak Indigenous</text>
<text transform="translate(565.20,1879.70) rotate(-45) scale(1,1.05)" font-size="13.6" fill="#4d4d4d" text-anchor="end">Selangor Indigenous</text>
<text transform="translate(653.30,1879.70) rotate(-45) scale(1,1.05)" font-size="13.6" fill="#4d4d4d" text-anchor="end">Kuala Lumpur Urban</text>
<text transform="translate(558.40,1987.00) scale(1,1.05)" font-size="16.9" fill="#000" text-anchor="middle" font-weight="normal" font-style="normal">Location</text>
<text transform="translate(387.50,1444.60) rotate(-90) scale(1,1.05)" font-size="16.9" text-anchor="middle">Oscillibacter</text>
<text transform="translate(439.10,1063.30) scale(1,1.05)" font-size="13.1" fill="#000" text-anchor="start" font-weight="normal" font-style="normal">Kruskal-Wallis, p = 4.3e-09</text>
<path d="M558.40,1122.00 V1108.40 H646.50 V1122.00" fill="none" stroke="#333333" stroke-width="1.2"/>
<text transform="translate(602.45,1099.60) scale(1,1.05)" font-size="13.1" fill="#000" text-anchor="middle" font-weight="normal" font-style="normal">8.76e-08</text>
<path d="M470.50,1204.70 V1191.10 H646.50 V1204.70" fill="none" stroke="#333333" stroke-width="1.2"/>
<text transform="translate(558.50,1182.50) scale(1,1.05)" font-size="13.1" fill="#000" text-anchor="middle" font-weight="normal" font-style="normal">0.055</text>
<path d="M470.50,1287.60 V1274.00 H558.40 V1287.60" fill="none" stroke="#333333" stroke-width="1.2"/>
<text transform="translate(514.45,1265.60) scale(1,1.05)" font-size="13.1" fill="#000" text-anchor="middle" font-weight="normal" font-style="normal">5.91e-08</text>
<text transform="translate(359.50,1022.70) scale(1,1.06)" font-size="19.5" fill="#000" text-anchor="start" font-weight="normal" font-style="normal">C</text>
<rect x="778.60" y="1025.10" width="276.40" height="839.00" fill="#ffffff"/>
<line x1="778.60" y1="1712.05" x2="1055.00" y2="1712.05" stroke="#f0f0f0" stroke-width="0.8"/>
<line x1="778.60" y1="1512.35" x2="1055.00" y2="1512.35" stroke="#f0f0f0" stroke-width="0.8"/>
<line x1="778.60" y1="1312.65" x2="1055.00" y2="1312.65" stroke="#f0f0f0" stroke-width="0.8"/>
<line x1="778.60" y1="1112.95" x2="1055.00" y2="1112.95" stroke="#f0f0f0" stroke-width="0.8"/>
<line x1="778.60" y1="1811.90" x2="1055.00" y2="1811.90" stroke="#ebebeb" stroke-width="1.1"/>
<line x1="778.60" y1="1612.20" x2="1055.00" y2="1612.20" stroke="#ebebeb" stroke-width="1.1"/>
<line x1="778.60" y1="1412.50" x2="1055.00" y2="1412.50" stroke="#ebebeb" stroke-width="1.1"/>
<line x1="778.60" y1="1212.80" x2="1055.00" y2="1212.80" stroke="#ebebeb" stroke-width="1.1"/>
<line x1="830.50" y1="1025.10" x2="830.50" y2="1864.10" stroke="#ebebeb" stroke-width="1.1"/>
<line x1="917.20" y1="1025.10" x2="917.20" y2="1864.10" stroke="#ebebeb" stroke-width="1.1"/>
<line x1="1003.80" y1="1025.10" x2="1003.80" y2="1864.10" stroke="#ebebeb" stroke-width="1.1"/>
<line x1="830.50" y1="1254.00" x2="830.50" y2="1505.50" stroke="#c24b63" stroke-width="1.6"/>
<line x1="830.50" y1="1694.90" x2="830.50" y2="1826.50" stroke="#c24b63" stroke-width="1.6"/>
<rect x="800.15" y="1505.50" width="60.69" height="189.40" fill="#ffffff" stroke="#c24b63" stroke-width="1.6"/>
<line x1="800.15" y1="1614.80" x2="860.85" y2="1614.80" stroke="#c24b63" stroke-width="3.0"/>
<line x1="917.20" y1="1203.70" x2="917.20" y2="1347.50" stroke="#76b1e4" stroke-width="1.6"/>
<line x1="917.20" y1="1586.80" x2="917.20" y2="1720.50" stroke="#76b1e4" stroke-width="1.6"/>
<rect x="886.86" y="1347.50" width="60.69" height="239.30" fill="#ffffff" stroke="#76b1e4" stroke-width="1.6"/>
<line x1="886.86" y1="1481.10" x2="947.55" y2="1481.10" stroke="#76b1e4" stroke-width="3.0"/>
<line x1="1003.80" y1="1253.20" x2="1003.80" y2="1431.00" stroke="#e3a128" stroke-width="1.6"/>
<line x1="1003.80" y1="1561.40" x2="1003.80" y2="1672.10" stroke="#e3a128" stroke-width="1.6"/>
<rect x="973.45" y="1431.00" width="60.69" height="130.40" fill="#ffffff" stroke="#e3a128" stroke-width="1.6"/>
<line x1="973.45" y1="1491.90" x2="1034.14" y2="1491.90" stroke="#e3a128" stroke-width="3.0"/>
<circle cx="823.4" cy="1190.5" r="3.4" fill="#c24b63"/>
<circle cx="821.2" cy="1194.0" r="3.4" fill="#c24b63"/>
<circle cx="843.8" cy="1253.8" r="3.4" fill="#c24b63"/>
<circle cx="837.0" cy="1304.5" r="3.4" fill="#c24b63"/>
<circle cx="842.4" cy="1310.5" r="3.4" fill="#c24b63"/>
<circle cx="838.7" cy="1318.0" r="3.4" fill="#c24b63"/>
<circle cx="818.2" cy="1393.9" r="3.4" fill="#c24b63"/>
<circle cx="840.9" cy="1397.1" r="3.4" fill="#c24b63"/>
<circle cx="819.7" cy="1408.3" r="3.4" fill="#c24b63"/>
<circle cx="823.7" cy="1412.3" r="3.4" fill="#c24b63"/>
<circle cx="824.2" cy="1417.7" r="3.4" fill="#c24b63"/>
<circle cx="817.7" cy="1431.4" r="3.4" fill="#c24b63"/>
<circle cx="823.2" cy="1430.2" r="3.4" fill="#c24b63"/>
<circle cx="847.5" cy="1440.9" r="3.4" fill="#c24b63"/>
<circle cx="834.9" cy="1447.8" r="3.4" fill="#c24b63"/>
<circle cx="847.3" cy="1460.6" r="3.4" fill="#c24b63"/>
<circle cx="842.8" cy="1469.4" r="3.4" fill="#c24b63"/>
<circle cx="819.2" cy="1470.9" r="3.4" fill="#c24b63"/>
<circle cx="820.7" cy="1484.9" r="3.4" fill="#c24b63"/>
<circle cx="835.2" cy="1483.1" r="3.4" fill="#c24b63"/>
<circle cx="846.5" cy="1483.6" r="3.4" fill="#c24b63"/>
<circle cx="819.4" cy="1505.2" r="3.4" fill="#c24b63"/>
<circle cx="844.8" cy="1507.3" r="3.4" fill="#c24b63"/>
<circle cx="830.2" cy="1523.8" r="3.4" fill="#c24b63"/>
<circle cx="829.2" cy="1532.1" r="3.4" fill="#c24b63"/>
<circle cx="838.7" cy="1529.3" r="3.4" fill="#c24b63"/>
<circle cx="844.8" cy="1533.1" r="3.4" fill="#c24b63"/>
<circle cx="814.6" cy="1541.4" r="3.4" fill="#c24b63"/>
<circle cx="818.0" cy="1546.7" r="3.4" fill="#c24b63"/>
<circle cx="821.4" cy="1550.7" r="3.4" fill="#c24b63"/>
<circle cx="829.4" cy="1546.2" r="3.4" fill="#c24b63"/>
<circle cx="840.4" cy="1541.1" r="3.4" fill="#c24b63"/>
<circle cx="843.5" cy="1544.5" r="3.4" fill="#c24b63"/>
<circle cx="846.3" cy="1544.7" r="3.4" fill="#c24b63"/>
<circle cx="836.4" cy="1552.2" r="3.4" fill="#c24b63"/>
<circle cx="818.7" cy="1559.7" r="3.4" fill="#c24b63"/>
<circle cx="821.2" cy="1561.7" r="3.4" fill="#c24b63"/>
<circle cx="827.4" cy="1563.2" r="3.4" fill="#c24b63"/>
<circle cx="817.3" cy="1569.0" r="3.4" fill="#c24b63"/>
<circle cx="835.0" cy="1579.0" r="3.4" fill="#c24b63"/>
<circle cx="842.0" cy="1578.0" r="3.4" fill="#c24b63"/>
<circle cx="820.4" cy="1603.1" r="3.4" fill="#c24b63"/>
<circle cx="820.9" cy="1608.0" r="3.4" fill="#c24b63"/>
<circle cx="822.4" cy="1622.4" r="3.4" fill="#c24b63"/>
<circle cx="846.0" cy="1627.0" r="3.4" fill="#c24b63"/>
<circle cx="839.0" cy="1631.4" r="3.4" fill="#c24b63"/>
<circle cx="843.3" cy="1632.2" r="3.4" fill="#c24b63"/>
<circle cx="841.2" cy="1637.8" r="3.4" fill="#c24b63"/>
<circle cx="845.8" cy="1639.8" r="3.4" fill="#c24b63"/>
<circle cx="846.3" cy="1644.8" r="3.4" fill="#c24b63"/>
<circle cx="829.2" cy="1642.5" r="3.4" fill="#c24b63"/>
<circle cx="825.2" cy="1644.8" r="3.4" fill="#c24b63"/>
<circle cx="821.2" cy="1648.8" r="3.4" fill="#c24b63"/>
<circle cx="823.9" cy="1649.8" r="3.4" fill="#c24b63"/>
<circle cx="838.4" cy="1647.8" r="3.4" fill="#c24b63"/>
<circle cx="813.9" cy="1656.5" r="3.4" fill="#c24b63"/>
<circle cx="832.0" cy="1657.5" r="3.4" fill="#c24b63"/>
<circle cx="826.2" cy="1661.4" r="3.4" fill="#c24b63"/>
<circle cx="818.2" cy="1665.4" r="3.4" fill="#c24b63"/>
<circle cx="827.4" cy="1677.9" r="3.4" fill="#c24b63"/>
<circle cx="828.0" cy="1686.0" r="3.4" fill="#c24b63"/>
<circle cx="837.4" cy="1686.8" r="3.4" fill="#c24b63"/>
<circle cx="844.1" cy="1682.0" r="3.4" fill="#c24b63"/>
<circle cx="838.4" cy="1697.3" r="3.4" fill="#c24b63"/>
<circle cx="844.8" cy="1698.0" r="3.4" fill="#c24b63"/>
<circle cx="843.5" cy="1707.1" r="3.4" fill="#c24b63"/>
<circle cx="814.6" cy="1716.1" r="3.4" fill="#c24b63"/>
<circle cx="813.1" cy="1719.2" r="3.4" fill="#c24b63"/>
<circle cx="818.0" cy="1724.1" r="3.4" fill="#c24b63"/>
<circle cx="845.1" cy="1731.6" r="3.4" fill="#c24b63"/>
<circle cx="816.8" cy="1739.8" r="3.4" fill="#c24b63"/>
<circle cx="835.7" cy="1739.2" r="3.4" fill="#c24b63"/>
<circle cx="843.3" cy="1744.5" r="3.4" fill="#c24b63"/>
<circle cx="815.7" cy="1750.6" r="3.4" fill="#c24b63"/>
<circle cx="815.9" cy="1756.0" r="3.4" fill="#c24b63"/>
<circle cx="827.3" cy="1759.0" r="3.4" fill="#c24b63"/>
<circle cx="829.1" cy="1761.4" r="3.4" fill="#c24b63"/>
<circle cx="834.5" cy="1756.8" r="3.4" fill="#c24b63"/>
<circle cx="844.8" cy="1756.8" r="3.4" fill="#c24b63"/>
<circle cx="835.8" cy="1766.7" r="3.4" fill="#c24b63"/>
<circle cx="841.8" cy="1766.7" r="3.4" fill="#c24b63"/>
<circle cx="840.1" cy="1780.4" r="3.4" fill="#c24b63"/>
<circle cx="841.7" cy="1808.9" r="3.4" fill="#c24b63"/>
<circle cx="824.6" cy="1826.6" r="3.4" fill="#c24b63"/>
<circle cx="927.5" cy="1203.3" r="3.4" fill="#76b1e4"/>
<circle cx="932.8" cy="1208.4" r="3.4" fill="#76b1e4"/>
<circle cx="925.0" cy="1214.8" r="3.4" fill="#76b1e4"/>
<circle cx="908.5" cy="1220.9" r="3.4" fill="#76b1e4"/>
<circle cx="910.2" cy="1224.1" r="3.4" fill="#76b1e4"/>
<circle cx="933.5" cy="1250.4" r="3.4" fill="#76b1e4"/>
<circle cx="908.5" cy="1255.5" r="3.4" fill="#76b1e4"/>
<circle cx="904.1" cy="1259.3" r="3.4" fill="#76b1e4"/>
<circle cx="929.0" cy="1269.1" r="3.4" fill="#76b1e4"/>
<circle cx="928.7" cy="1330.6" r="3.4" fill="#76b1e4"/>
<circle cx="904.1" cy="1338.8" r="3.4" fill="#76b1e4"/>
<circle cx="909.7" cy="1347.3" r="3.4" fill="#76b1e4"/>
<circle cx="916.9" cy="1359.5" r="3.4" fill="#76b1e4"/>
<circle cx="900.6" cy="1366.2" r="3.4" fill="#76b1e4"/>
<circle cx="905.8" cy="1368.2" r="3.4" fill="#76b1e4"/>
<circle cx="927.4" cy="1367.2" r="3.4" fill="#76b1e4"/>
<circle cx="923.4" cy="1372.2" r="3.4" fill="#76b1e4"/>
<circle cx="925.5" cy="1383.4" r="3.4" fill="#76b1e4"/>
<circle cx="925.0" cy="1396.9" r="3.4" fill="#76b1e4"/>
<circle cx="921.4" cy="1438.4" r="3.4" fill="#76b1e4"/>
<circle cx="913.7" cy="1446.3" r="3.4" fill="#76b1e4"/>
<circle cx="913.7" cy="1460.3" r="3.4" fill="#76b1e4"/>
<circle cx="919.5" cy="1480.9" r="3.4" fill="#76b1e4"/>
<circle cx="918.2" cy="1485.4" r="3.4" fill="#76b1e4"/>
<circle cx="904.1" cy="1497.5" r="3.4" fill="#76b1e4"/>
<circle cx="920.2" cy="1558.7" r="3.4" fill="#76b1e4"/>
<circle cx="922.7" cy="1558.7" r="3.4" fill="#76b1e4"/>
<circle cx="930.0" cy="1567.0" r="3.4" fill="#76b1e4"/>
<circle cx="924.3" cy="1571.3" r="3.4" fill="#76b1e4"/>
<circle cx="915.9" cy="1574.9" r="3.4" fill="#76b1e4"/>
<circle cx="909.4" cy="1576.9" r="3.4" fill="#76b1e4"/>
<circle cx="933.9" cy="1577.8" r="3.4" fill="#76b1e4"/>
<circle cx="916.6" cy="1586.2" r="3.4" fill="#76b1e4"/>
<circle cx="919.7" cy="1587.1" r="3.4" fill="#76b1e4"/>
<circle cx="912.5" cy="1588.0" r="3.4" fill="#76b1e4"/>
<circle cx="910.2" cy="1590.9" r="3.4" fill="#76b1e4"/>
<circle cx="908.4" cy="1605.2" r="3.4" fill="#76b1e4"/>
<circle cx="922.0" cy="1611.5" r="3.4" fill="#76b1e4"/>
<circle cx="917.2" cy="1640.0" r="3.4" fill="#76b1e4"/>
<circle cx="913.9" cy="1645.4" r="3.4" fill="#76b1e4"/>
<circle cx="905.1" cy="1649.3" r="3.4" fill="#76b1e4"/>
<circle cx="928.3" cy="1666.2" r="3.4" fill="#76b1e4"/>
<circle cx="907.5" cy="1672.6" r="3.4" fill="#76b1e4"/>
<circle cx="911.0" cy="1690.7" r="3.4" fill="#76b1e4"/>
<circle cx="906.4" cy="1720.8" r="3.4" fill="#76b1e4"/>
<circle cx="1020.7" cy="1252.7" r="3.4" fill="#e3a128"/>
<circle cx="992.3" cy="1279.9" r="3.4" fill="#e3a128"/>
<circle cx="995.8" cy="1340.7" r="3.4" fill="#e3a128"/>
<circle cx="1020.4" cy="1353.4" r="3.4" fill="#e3a128"/>
<circle cx="989.8" cy="1430.0" r="3.4" fill="#e3a128"/>
<circle cx="996.0" cy="1433.7" r="3.4" fill="#e3a128"/>
<circle cx="1011.4" cy="1438.1" r="3.4" fill="#e3a128"/>
<circle cx="1009.9" cy="1450.8" r="3.4" fill="#e3a128"/>
<circle cx="1019.5" cy="1457.8" r="3.4" fill="#e3a128"/>
<circle cx="1008.5" cy="1526.1" r="3.4" fill="#e3a128"/>
<circle cx="991.0" cy="1531.6" r="3.4" fill="#e3a128"/>
<circle cx="988.3" cy="1537.6" r="3.4" fill="#e3a128"/>
<circle cx="988.3" cy="1558.2" r="3.4" fill="#e3a128"/>
<circle cx="1011.2" cy="1562.2" r="3.4" fill="#e3a128"/>
<circle cx="997.2" cy="1642.0" r="3.4" fill="#e3a128"/>
<circle cx="987.4" cy="1645.4" r="3.4" fill="#e3a128"/>
<circle cx="1001.6" cy="1672.0" r="3.4" fill="#e3a128"/>
<circle cx="1000.7" cy="1678.3" r="3.4" fill="#e3a128"/>
<rect x="778.60" y="1025.10" width="276.40" height="839.30" fill="none" stroke="#3a3a3a" stroke-width="1.35"/>
<line x1="774.10" y1="1811.90" x2="778.60" y2="1811.90" stroke="#333333" stroke-width="1.5"/>
<text transform="translate(770.60,1816.80) scale(1,1.05)" font-size="13" fill="#4d4d4d" text-anchor="end" font-weight="normal" font-style="normal">-20</text>
<line x1="774.10" y1="1612.20" x2="778.60" y2="1612.20" stroke="#333333" stroke-width="1.5"/>
<text transform="translate(770.60,1617.10) scale(1,1.05)" font-size="13" fill="#4d4d4d" text-anchor="end" font-weight="normal" font-style="normal">0</text>
<line x1="774.10" y1="1412.50" x2="778.60" y2="1412.50" stroke="#333333" stroke-width="1.5"/>
<text transform="translate(770.60,1417.40) scale(1,1.05)" font-size="13" fill="#4d4d4d" text-anchor="end" font-weight="normal" font-style="normal">20</text>
<line x1="774.10" y1="1212.80" x2="778.60" y2="1212.80" stroke="#333333" stroke-width="1.5"/>
<text transform="translate(770.60,1217.70) scale(1,1.05)" font-size="13" fill="#4d4d4d" text-anchor="end" font-weight="normal" font-style="normal">40</text>
<line x1="830.50" y1="1864.10" x2="830.50" y2="1868.60" stroke="#333333" stroke-width="1.5"/>
<line x1="917.20" y1="1864.10" x2="917.20" y2="1868.60" stroke="#333333" stroke-width="1.5"/>
<line x1="1003.80" y1="1864.10" x2="1003.80" y2="1868.60" stroke="#333333" stroke-width="1.5"/>
<text transform="translate(837.30,1879.70) rotate(-45) scale(1,1.05)" font-size="13.6" fill="#4d4d4d" text-anchor="end">Sarawak Indigenous</text>
<text transform="translate(924.00,1879.70) rotate(-45) scale(1,1.05)" font-size="13.6" fill="#4d4d4d" text-anchor="end">Selangor Indigenous</text>
<text transform="translate(1010.60,1879.70) rotate(-45) scale(1,1.05)" font-size="13.6" fill="#4d4d4d" text-anchor="end">Kuala Lumpur Urban</text>
<text transform="translate(917.20,1987.00) scale(1,1.05)" font-size="16.9" fill="#000" text-anchor="middle" font-weight="normal" font-style="normal">Location</text>
<text transform="translate(744.10,1444.60) rotate(-90) scale(1,1.05)" font-size="16.9" text-anchor="middle">Ruminococcus</text>
<text transform="translate(799.30,1063.30) scale(1,1.05)" font-size="13.1" fill="#000" text-anchor="start" font-weight="normal" font-style="normal">Kruskal-Wallis, p = 6.2e-05</text>
<path d="M917.20,1121.50 V1108.00 H1003.80 V1121.50" fill="none" stroke="#333333" stroke-width="1.2"/>
<text transform="translate(960.50,1099.60) scale(1,1.05)" font-size="13.1" fill="#000" text-anchor="middle" font-weight="normal" font-style="normal">0.734</text>
<path d="M830.50,1159.10 V1145.60 H1003.80 V1159.10" fill="none" stroke="#333333" stroke-width="1.2"/>
<text transform="translate(917.15,1137.20) scale(1,1.05)" font-size="13.1" fill="#000" text-anchor="middle" font-weight="normal" font-style="normal">0.01</text>
<path d="M830.50,1197.10 V1183.80 H917.20 V1197.10" fill="none" stroke="#333333" stroke-width="1.2"/>
<text transform="translate(873.85,1175.20) scale(1,1.05)" font-size="13.1" fill="#000" text-anchor="middle" font-weight="normal" font-style="normal">0.000189</text>
<text transform="translate(716.00,1022.70) scale(1,1.06)" font-size="19.5" fill="#000" text-anchor="start" font-weight="normal" font-style="normal">D</text>
<rect x="1134.30" y="1025.10" width="277.10" height="839.00" fill="#ffffff"/>
<line x1="1134.30" y1="1723.67" x2="1411.40" y2="1723.67" stroke="#f0f0f0" stroke-width="0.8"/>
<line x1="1134.30" y1="1445.92" x2="1411.40" y2="1445.92" stroke="#f0f0f0" stroke-width="0.8"/>
<line x1="1134.30" y1="1168.17" x2="1411.40" y2="1168.17" stroke="#f0f0f0" stroke-width="0.8"/>
<line x1="1134.30" y1="1862.55" x2="1411.40" y2="1862.55" stroke="#ebebeb" stroke-width="1.1"/>
<line x1="1134.30" y1="1584.80" x2="1411.40" y2="1584.80" stroke="#ebebeb" stroke-width="1.1"/>
<line x1="1134.30" y1="1307.05" x2="1411.40" y2="1307.05" stroke="#ebebeb" stroke-width="1.1"/>
<line x1="1134.30" y1="1029.30" x2="1411.40" y2="1029.30" stroke="#ebebeb" stroke-width="1.1"/>
<line x1="1185.70" y1="1025.10" x2="1185.70" y2="1864.10" stroke="#ebebeb" stroke-width="1.1"/>
<line x1="1272.60" y1="1025.10" x2="1272.60" y2="1864.10" stroke="#ebebeb" stroke-width="1.1"/>
<line x1="1359.60" y1="1025.10" x2="1359.60" y2="1864.10" stroke="#ebebeb" stroke-width="1.1"/>
<line x1="1185.70" y1="1338.30" x2="1185.70" y2="1554.30" stroke="#c24b63" stroke-width="1.6"/>
<line x1="1185.70" y1="1736.70" x2="1185.70" y2="1826.00" stroke="#c24b63" stroke-width="1.6"/>
<rect x="1155.29" y="1554.30" width="60.83" height="182.40" fill="#ffffff" stroke="#c24b63" stroke-width="1.6"/>
<line x1="1155.29" y1="1617.30" x2="1216.12" y2="1617.30" stroke="#c24b63" stroke-width="3.0"/>
<line x1="1272.60" y1="1460.40" x2="1272.60" y2="1494.30" stroke="#76b1e4" stroke-width="1.6"/>
<line x1="1272.60" y1="1540.10" x2="1272.60" y2="1585.80" stroke="#76b1e4" stroke-width="1.6"/>
<rect x="1242.18" y="1494.30" width="60.83" height="45.80" fill="#ffffff" stroke="#76b1e4" stroke-width="1.6"/>
<line x1="1242.18" y1="1516.70" x2="1303.01" y2="1516.70" stroke="#76b1e4" stroke-width="3.0"/>
<line x1="1359.60" y1="1464.90" x2="1359.60" y2="1470.60" stroke="#e3a128" stroke-width="1.6"/>
<line x1="1359.60" y1="1510.20" x2="1359.60" y2="1515.70" stroke="#e3a128" stroke-width="1.6"/>
<rect x="1329.18" y="1470.60" width="60.83" height="39.60" fill="#ffffff" stroke="#e3a128" stroke-width="1.6"/>
<line x1="1329.18" y1="1481.10" x2="1390.01" y2="1481.10" stroke="#e3a128" stroke-width="3.0"/>
<circle cx="1187.0" cy="1252.2" r="3.4" fill="#c24b63"/>
<circle cx="1177.1" cy="1338.2" r="3.4" fill="#c24b63"/>
<circle cx="1181.0" cy="1337.2" r="3.4" fill="#c24b63"/>
<circle cx="1170.6" cy="1368.0" r="3.4" fill="#c24b63"/>
<circle cx="1173.6" cy="1367.0" r="3.4" fill="#c24b63"/>
<circle cx="1170.6" cy="1414.2" r="3.4" fill="#c24b63"/>
<circle cx="1201.8" cy="1435.9" r="3.4" fill="#c24b63"/>
<circle cx="1189.2" cy="1444.1" r="3.4" fill="#c24b63"/>
<circle cx="1175.6" cy="1463.9" r="3.4" fill="#c24b63"/>
<circle cx="1188.2" cy="1470.7" r="3.4" fill="#c24b63"/>
<circle cx="1197.7" cy="1475.9" r="3.4" fill="#c24b63"/>
<circle cx="1188.9" cy="1490.2" r="3.4" fill="#c24b63"/>
<circle cx="1191.7" cy="1520.1" r="3.4" fill="#c24b63"/>
<circle cx="1172.1" cy="1534.2" r="3.4" fill="#c24b63"/>
<circle cx="1195.7" cy="1532.6" r="3.4" fill="#c24b63"/>
<circle cx="1182.7" cy="1540.9" r="3.4" fill="#c24b63"/>
<circle cx="1186.7" cy="1546.0" r="3.4" fill="#c24b63"/>
<circle cx="1191.7" cy="1543.5" r="3.4" fill="#c24b63"/>
<circle cx="1197.7" cy="1548.7" r="3.4" fill="#c24b63"/>
<circle cx="1172.3" cy="1554.5" r="3.4" fill="#c24b63"/>
<circle cx="1182.7" cy="1553.0" r="3.4" fill="#c24b63"/>
<circle cx="1184.2" cy="1556.0" r="3.4" fill="#c24b63"/>
<circle cx="1191.4" cy="1552.0" r="3.4" fill="#c24b63"/>
<circle cx="1186.7" cy="1558.0" r="3.4" fill="#c24b63"/>
<circle cx="1188.9" cy="1559.5" r="3.4" fill="#c24b63"/>
<circle cx="1178.5" cy="1567.0" r="3.4" fill="#c24b63"/>
<circle cx="1176.9" cy="1573.6" r="3.4" fill="#c24b63"/>
<circle cx="1174.6" cy="1578.4" r="3.4" fill="#c24b63"/>
<circle cx="1176.8" cy="1582.6" r="3.4" fill="#c24b63"/>
<circle cx="1169.3" cy="1584.8" r="3.4" fill="#c24b63"/>
<circle cx="1192.2" cy="1573.4" r="3.4" fill="#c24b63"/>
<circle cx="1193.2" cy="1575.6" r="3.4" fill="#c24b63"/>
<circle cx="1189.9" cy="1579.6" r="3.4" fill="#c24b63"/>
<circle cx="1189.2" cy="1583.6" r="3.4" fill="#c24b63"/>
<circle cx="1188.2" cy="1586.1" r="3.4" fill="#c24b63"/>
<circle cx="1185.7" cy="1587.1" r="3.4" fill="#c24b63"/>
<circle cx="1201.4" cy="1584.6" r="3.4" fill="#c24b63"/>
<circle cx="1182.2" cy="1594.9" r="3.4" fill="#c24b63"/>
<circle cx="1170.1" cy="1610.9" r="3.4" fill="#c24b63"/>
<circle cx="1177.7" cy="1608.2" r="3.4" fill="#c24b63"/>
<circle cx="1194.4" cy="1613.2" r="3.4" fill="#c24b63"/>
<circle cx="1203.1" cy="1621.1" r="3.4" fill="#c24b63"/>
<circle cx="1169.0" cy="1625.1" r="3.4" fill="#c24b63"/>
<circle cx="1170.4" cy="1649.3" r="3.4" fill="#c24b63"/>
<circle cx="1179.8" cy="1647.6" r="3.4" fill="#c24b63"/>
<circle cx="1175.9" cy="1653.1" r="3.4" fill="#c24b63"/>
<circle cx="1178.1" cy="1655.1" r="3.4" fill="#c24b63"/>
<circle cx="1183.1" cy="1679.9" r="3.4" fill="#c24b63"/>
<circle cx="1184.8" cy="1681.9" r="3.4" fill="#c24b63"/>
<circle cx="1188.6" cy="1693.5" r="3.4" fill="#c24b63"/>
<circle cx="1191.9" cy="1692.7" r="3.4" fill="#c24b63"/>
<circle cx="1175.0" cy="1697.1" r="3.4" fill="#c24b63"/>
<circle cx="1178.7" cy="1704.2" r="3.4" fill="#c24b63"/>
<circle cx="1172.0" cy="1708.4" r="3.4" fill="#c24b63"/>
<circle cx="1170.7" cy="1712.8" r="3.4" fill="#c24b63"/>
<circle cx="1195.0" cy="1706.2" r="3.4" fill="#c24b63"/>
<circle cx="1172.0" cy="1722.8" r="3.4" fill="#c24b63"/>
<circle cx="1191.9" cy="1721.1" r="3.4" fill="#c24b63"/>
<circle cx="1199.9" cy="1721.7" r="3.4" fill="#c24b63"/>
<circle cx="1180.9" cy="1728.8" r="3.4" fill="#c24b63"/>
<circle cx="1174.5" cy="1733.3" r="3.4" fill="#c24b63"/>
<circle cx="1185.3" cy="1737.7" r="3.4" fill="#c24b63"/>
<circle cx="1185.3" cy="1739.3" r="3.4" fill="#c24b63"/>
<circle cx="1169.3" cy="1741.3" r="3.4" fill="#c24b63"/>
<circle cx="1176.1" cy="1747.1" r="3.4" fill="#c24b63"/>
<circle cx="1178.1" cy="1753.1" r="3.4" fill="#c24b63"/>
<circle cx="1172.3" cy="1758.1" r="3.4" fill="#c24b63"/>
<circle cx="1187.5" cy="1757.0" r="3.4" fill="#c24b63"/>
<circle cx="1179.8" cy="1773.0" r="3.4" fill="#c24b63"/>
<circle cx="1183.1" cy="1774.1" r="3.4" fill="#c24b63"/>
<circle cx="1189.2" cy="1771.4" r="3.4" fill="#c24b63"/>
<circle cx="1176.1" cy="1781.9" r="3.4" fill="#c24b63"/>
<circle cx="1189.9" cy="1780.8" r="3.4" fill="#c24b63"/>
<circle cx="1187.0" cy="1792.2" r="3.4" fill="#c24b63"/>
<circle cx="1170.1" cy="1795.1" r="3.4" fill="#c24b63"/>
<circle cx="1197.8" cy="1795.7" r="3.4" fill="#c24b63"/>
<circle cx="1179.4" cy="1803.4" r="3.4" fill="#c24b63"/>
<circle cx="1172.8" cy="1822.8" r="3.4" fill="#c24b63"/>
<circle cx="1169.8" cy="1826.6" r="3.4" fill="#c24b63"/>
<circle cx="1194.5" cy="1825.5" r="3.4" fill="#c24b63"/>
<circle cx="1256.6" cy="1383.4" r="3.4" fill="#76b1e4"/>
<circle cx="1277.4" cy="1387.9" r="3.4" fill="#76b1e4"/>
<circle cx="1285.9" cy="1386.9" r="3.4" fill="#76b1e4"/>
<circle cx="1258.1" cy="1460.2" r="3.4" fill="#76b1e4"/>
<circle cx="1285.2" cy="1466.4" r="3.4" fill="#76b1e4"/>
<circle cx="1276.2" cy="1469.9" r="3.4" fill="#76b1e4"/>
<circle cx="1266.2" cy="1478.4" r="3.4" fill="#76b1e4"/>
<circle cx="1273.0" cy="1478.4" r="3.4" fill="#76b1e4"/>
<circle cx="1288.5" cy="1478.6" r="3.4" fill="#76b1e4"/>
<circle cx="1275.5" cy="1487.0" r="3.4" fill="#76b1e4"/>
<circle cx="1271.7" cy="1492.0" r="3.4" fill="#76b1e4"/>
<circle cx="1261.9" cy="1495.3" r="3.4" fill="#76b1e4"/>
<circle cx="1280.5" cy="1494.5" r="3.4" fill="#76b1e4"/>
<circle cx="1268.7" cy="1498.0" r="3.4" fill="#76b1e4"/>
<circle cx="1262.3" cy="1505.0" r="3.4" fill="#76b1e4"/>
<circle cx="1278.9" cy="1505.0" r="3.4" fill="#76b1e4"/>
<circle cx="1275.7" cy="1508.6" r="3.4" fill="#76b1e4"/>
<circle cx="1261.6" cy="1513.6" r="3.4" fill="#76b1e4"/>
<circle cx="1268.7" cy="1512.6" r="3.4" fill="#76b1e4"/>
<circle cx="1273.2" cy="1514.6" r="3.4" fill="#76b1e4"/>
<circle cx="1257.6" cy="1519.1" r="3.4" fill="#76b1e4"/>
<circle cx="1261.1" cy="1517.6" r="3.4" fill="#76b1e4"/>
<circle cx="1269.2" cy="1516.1" r="3.4" fill="#76b1e4"/>
<circle cx="1280.2" cy="1519.1" r="3.4" fill="#76b1e4"/>
<circle cx="1287.8" cy="1522.1" r="3.4" fill="#76b1e4"/>
<circle cx="1289.3" cy="1527.6" r="3.4" fill="#76b1e4"/>
<circle cx="1267.2" cy="1524.6" r="3.4" fill="#76b1e4"/>
<circle cx="1266.2" cy="1528.6" r="3.4" fill="#76b1e4"/>
<circle cx="1273.9" cy="1525.6" r="3.4" fill="#76b1e4"/>
<circle cx="1272.0" cy="1533.7" r="3.4" fill="#76b1e4"/>
<circle cx="1258.6" cy="1536.7" r="3.4" fill="#76b1e4"/>
<circle cx="1284.2" cy="1539.7" r="3.4" fill="#76b1e4"/>
<circle cx="1278.5" cy="1586.7" r="3.4" fill="#76b1e4"/>
<circle cx="1280.5" cy="1611.8" r="3.4" fill="#76b1e4"/>
<circle cx="1262.9" cy="1628.9" r="3.4" fill="#76b1e4"/>
<circle cx="1264.4" cy="1656.2" r="3.4" fill="#76b1e4"/>
<circle cx="1278.7" cy="1655.3" r="3.4" fill="#76b1e4"/>
<circle cx="1286.7" cy="1652.4" r="3.4" fill="#76b1e4"/>
<circle cx="1262.3" cy="1673.2" r="3.4" fill="#76b1e4"/>
<circle cx="1280.5" cy="1673.5" r="3.4" fill="#76b1e4"/>
<circle cx="1258.3" cy="1694.3" r="3.4" fill="#76b1e4"/>
<circle cx="1269.2" cy="1694.8" r="3.4" fill="#76b1e4"/>
<circle cx="1279.0" cy="1708.7" r="3.4" fill="#76b1e4"/>
<circle cx="1354.5" cy="1349.4" r="3.4" fill="#e3a128"/>
<circle cx="1370.2" cy="1458.6" r="3.4" fill="#e3a128"/>
<circle cx="1359.7" cy="1463.1" r="3.4" fill="#e3a128"/>
<circle cx="1352.4" cy="1469.6" r="3.4" fill="#e3a128"/>
<circle cx="1365.7" cy="1472.1" r="3.4" fill="#e3a128"/>
<circle cx="1368.7" cy="1472.1" r="3.4" fill="#e3a128"/>
<circle cx="1348.4" cy="1476.4" r="3.4" fill="#e3a128"/>
<circle cx="1370.8" cy="1479.7" r="3.4" fill="#e3a128"/>
<circle cx="1353.5" cy="1483.2" r="3.4" fill="#e3a128"/>
<circle cx="1342.1" cy="1491.9" r="3.4" fill="#e3a128"/>
<circle cx="1351.2" cy="1496.2" r="3.4" fill="#e3a128"/>
<circle cx="1369.7" cy="1503.8" r="3.4" fill="#e3a128"/>
<circle cx="1368.7" cy="1512.1" r="3.4" fill="#e3a128"/>
<circle cx="1356.0" cy="1518.3" r="3.4" fill="#e3a128"/>
<circle cx="1347.7" cy="1609.4" r="3.4" fill="#e3a128"/>
<circle cx="1368.8" cy="1612.2" r="3.4" fill="#e3a128"/>
<circle cx="1363.0" cy="1677.9" r="3.4" fill="#e3a128"/>
<rect x="1134.30" y="1025.10" width="277.10" height="839.30" fill="none" stroke="#3a3a3a" stroke-width="1.35"/>
<line x1="1129.80" y1="1862.55" x2="1134.30" y2="1862.55" stroke="#333333" stroke-width="1.5"/>
<text transform="translate(1126.30,1867.45) scale(1,1.05)" font-size="13" fill="#4d4d4d" text-anchor="end" font-weight="normal" font-style="normal">-25</text>
<line x1="1129.80" y1="1584.80" x2="1134.30" y2="1584.80" stroke="#333333" stroke-width="1.5"/>
<text transform="translate(1126.30,1589.70) scale(1,1.05)" font-size="13" fill="#4d4d4d" text-anchor="end" font-weight="normal" font-style="normal">0</text>
<line x1="1129.80" y1="1307.05" x2="1134.30" y2="1307.05" stroke="#333333" stroke-width="1.5"/>
<text transform="translate(1126.30,1311.95) scale(1,1.05)" font-size="13" fill="#4d4d4d" text-anchor="end" font-weight="normal" font-style="normal">25</text>
<line x1="1129.80" y1="1029.30" x2="1134.30" y2="1029.30" stroke="#333333" stroke-width="1.5"/>
<text transform="translate(1126.30,1034.20) scale(1,1.05)" font-size="13" fill="#4d4d4d" text-anchor="end" font-weight="normal" font-style="normal">50</text>
<line x1="1185.70" y1="1864.10" x2="1185.70" y2="1868.60" stroke="#333333" stroke-width="1.5"/>
<line x1="1272.60" y1="1864.10" x2="1272.60" y2="1868.60" stroke="#333333" stroke-width="1.5"/>
<line x1="1359.60" y1="1864.10" x2="1359.60" y2="1868.60" stroke="#333333" stroke-width="1.5"/>
<text transform="translate(1192.50,1879.70) rotate(-45) scale(1,1.05)" font-size="13.6" fill="#4d4d4d" text-anchor="end">Sarawak Indigenous</text>
<text transform="translate(1279.40,1879.70) rotate(-45) scale(1,1.05)" font-size="13.6" fill="#4d4d4d" text-anchor="end">Selangor Indigenous</text>
<text transform="translate(1366.40,1879.70) rotate(-45) scale(1,1.05)" font-size="13.6" fill="#4d4d4d" text-anchor="end">Kuala Lumpur Urban</text>
<text transform="translate(1272.60,1987.00) scale(1,1.05)" font-size="16.9" fill="#000" text-anchor="middle" font-weight="normal" font-style="normal">Location</text>
<text transform="translate(1098.90,1444.60) rotate(-90) scale(1,1.05)" font-size="16.9" text-anchor="middle">Dialister</text>
<text transform="translate(1155.00,1063.30) scale(1,1.05)" font-size="13.1" fill="#000" text-anchor="start" font-weight="normal" font-style="normal">Kruskal-Wallis, p = 1.8e-08</text>
<path d="M1272.60,1138.70 V1125.70 H1359.60 V1138.70" fill="none" stroke="#333333" stroke-width="1.2"/>
<text transform="translate(1316.10,1116.70) scale(1,1.05)" font-size="13.1" fill="#000" text-anchor="middle" font-weight="normal" font-style="normal">0.015</text>
<path d="M1185.70,1193.60 V1181.00 H1359.60 V1193.60" fill="none" stroke="#333333" stroke-width="1.2"/>
<text transform="translate(1272.65,1172.70) scale(1,1.05)" font-size="13.1" fill="#000" text-anchor="middle" font-weight="normal" font-style="normal">3.62e-05</text>
<path d="M1185.70,1249.60 V1236.80 H1272.60 V1249.60" fill="none" stroke="#333333" stroke-width="1.2"/>
<text transform="translate(1229.15,1228.00) scale(1,1.05)" font-size="13.1" fill="#000" text-anchor="middle" font-weight="normal" font-style="normal">2.45e-06</text>
<text transform="translate(1072.50,1022.70) scale(1,1.06)" font-size="19.5" fill="#000" text-anchor="start" font-weight="normal" font-style="normal">E</text>
<rect x="1491.90" y="1025.10" width="275.90" height="839.00" fill="#ffffff"/>
<line x1="1491.90" y1="1803.70" x2="1767.80" y2="1803.70" stroke="#f0f0f0" stroke-width="0.8"/>
<line x1="1491.90" y1="1613.70" x2="1767.80" y2="1613.70" stroke="#f0f0f0" stroke-width="0.8"/>
<line x1="1491.90" y1="1423.70" x2="1767.80" y2="1423.70" stroke="#f0f0f0" stroke-width="0.8"/>
<line x1="1491.90" y1="1233.70" x2="1767.80" y2="1233.70" stroke="#f0f0f0" stroke-width="0.8"/>
<line x1="1491.90" y1="1043.70" x2="1767.80" y2="1043.70" stroke="#f0f0f0" stroke-width="0.8"/>
<line x1="1491.90" y1="1708.70" x2="1767.80" y2="1708.70" stroke="#ebebeb" stroke-width="1.1"/>
<line x1="1491.90" y1="1518.70" x2="1767.80" y2="1518.70" stroke="#ebebeb" stroke-width="1.1"/>
<line x1="1491.90" y1="1328.70" x2="1767.80" y2="1328.70" stroke="#ebebeb" stroke-width="1.1"/>
<line x1="1491.90" y1="1138.70" x2="1767.80" y2="1138.70" stroke="#ebebeb" stroke-width="1.1"/>
<line x1="1543.60" y1="1025.10" x2="1543.60" y2="1864.10" stroke="#ebebeb" stroke-width="1.1"/>
<line x1="1630.00" y1="1025.10" x2="1630.00" y2="1864.10" stroke="#ebebeb" stroke-width="1.1"/>
<line x1="1716.70" y1="1025.10" x2="1716.70" y2="1864.10" stroke="#ebebeb" stroke-width="1.1"/>
<line x1="1543.60" y1="1458.20" x2="1543.60" y2="1632.90" stroke="#c24b63" stroke-width="1.6"/>
<line x1="1543.60" y1="1750.80" x2="1543.60" y2="1826.10" stroke="#c24b63" stroke-width="1.6"/>
<rect x="1513.36" y="1632.90" width="60.48" height="117.90" fill="#ffffff" stroke="#c24b63" stroke-width="1.6"/>
<line x1="1513.36" y1="1688.40" x2="1573.84" y2="1688.40" stroke="#c24b63" stroke-width="3.0"/>
<line x1="1630.00" y1="1701.20" x2="1630.00" y2="1726.00" stroke="#76b1e4" stroke-width="1.6"/>
<line x1="1630.00" y1="1766.60" x2="1630.00" y2="1783.90" stroke="#76b1e4" stroke-width="1.6"/>
<rect x="1599.76" y="1726.00" width="60.48" height="40.60" fill="#ffffff" stroke="#76b1e4" stroke-width="1.6"/>
<line x1="1599.76" y1="1752.00" x2="1660.24" y2="1752.00" stroke="#76b1e4" stroke-width="3.0"/>
<line x1="1716.70" y1="1510.60" x2="1716.70" y2="1602.60" stroke="#e3a128" stroke-width="1.6"/>
<line x1="1716.70" y1="1689.80" x2="1716.70" y2="1735.10" stroke="#e3a128" stroke-width="1.6"/>
<rect x="1686.46" y="1602.60" width="60.48" height="87.20" fill="#ffffff" stroke="#e3a128" stroke-width="1.6"/>
<line x1="1686.46" y1="1651.20" x2="1746.94" y2="1651.20" stroke="#e3a128" stroke-width="3.0"/>
<circle cx="1534.7" cy="1312.0" r="3.4" fill="#c24b63"/>
<circle cx="1534.5" cy="1381.8" r="3.4" fill="#c24b63"/>
<circle cx="1542.0" cy="1390.6" r="3.4" fill="#c24b63"/>
<circle cx="1557.5" cy="1398.1" r="3.4" fill="#c24b63"/>
<circle cx="1532.3" cy="1414.5" r="3.4" fill="#c24b63"/>
<circle cx="1537.7" cy="1416.3" r="3.4" fill="#c24b63"/>
<circle cx="1526.3" cy="1419.5" r="3.4" fill="#c24b63"/>
<circle cx="1526.6" cy="1441.8" r="3.4" fill="#c24b63"/>
<circle cx="1551.9" cy="1457.6" r="3.4" fill="#c24b63"/>
<circle cx="1531.6" cy="1465.2" r="3.4" fill="#c24b63"/>
<circle cx="1554.2" cy="1473.7" r="3.4" fill="#c24b63"/>
<circle cx="1546.7" cy="1477.2" r="3.4" fill="#c24b63"/>
<circle cx="1546.4" cy="1525.6" r="3.4" fill="#c24b63"/>
<circle cx="1550.2" cy="1544.7" r="3.4" fill="#c24b63"/>
<circle cx="1535.7" cy="1557.0" r="3.4" fill="#c24b63"/>
<circle cx="1560.6" cy="1555.8" r="3.4" fill="#c24b63"/>
<circle cx="1560.6" cy="1561.1" r="3.4" fill="#c24b63"/>
<circle cx="1552.4" cy="1585.4" r="3.4" fill="#c24b63"/>
<circle cx="1559.8" cy="1611.0" r="3.4" fill="#c24b63"/>
<circle cx="1528.6" cy="1619.7" r="3.4" fill="#c24b63"/>
<circle cx="1530.6" cy="1631.1" r="3.4" fill="#c24b63"/>
<circle cx="1551.7" cy="1637.3" r="3.4" fill="#c24b63"/>
<circle cx="1542.5" cy="1652.3" r="3.4" fill="#c24b63"/>
<circle cx="1557.5" cy="1650.1" r="3.4" fill="#c24b63"/>
<circle cx="1535.2" cy="1656.7" r="3.4" fill="#c24b63"/>
<circle cx="1536.7" cy="1661.9" r="3.4" fill="#c24b63"/>
<circle cx="1540.7" cy="1664.7" r="3.4" fill="#c24b63"/>
<circle cx="1559.3" cy="1657.2" r="3.4" fill="#c24b63"/>
<circle cx="1557.8" cy="1659.7" r="3.4" fill="#c24b63"/>
<circle cx="1558.3" cy="1662.7" r="3.4" fill="#c24b63"/>
<circle cx="1542.2" cy="1670.5" r="3.4" fill="#c24b63"/>
<circle cx="1555.6" cy="1669.2" r="3.4" fill="#c24b63"/>
<circle cx="1543.6" cy="1677.8" r="3.4" fill="#c24b63"/>
<circle cx="1551.6" cy="1679.0" r="3.4" fill="#c24b63"/>
<circle cx="1552.9" cy="1680.4" r="3.4" fill="#c24b63"/>
<circle cx="1538.1" cy="1681.4" r="3.4" fill="#c24b63"/>
<circle cx="1545.5" cy="1685.1" r="3.4" fill="#c24b63"/>
<circle cx="1532.3" cy="1687.9" r="3.4" fill="#c24b63"/>
<circle cx="1549.8" cy="1687.9" r="3.4" fill="#c24b63"/>
<circle cx="1552.9" cy="1690.3" r="3.4" fill="#c24b63"/>
<circle cx="1557.8" cy="1695.1" r="3.4" fill="#c24b63"/>
<circle cx="1530.3" cy="1695.8" r="3.4" fill="#c24b63"/>
<circle cx="1533.7" cy="1698.2" r="3.4" fill="#c24b63"/>
<circle cx="1544.3" cy="1702.1" r="3.4" fill="#c24b63"/>
<circle cx="1549.7" cy="1701.6" r="3.4" fill="#c24b63"/>
<circle cx="1539.9" cy="1709.8" r="3.4" fill="#c24b63"/>
<circle cx="1553.0" cy="1727.1" r="3.4" fill="#c24b63"/>
<circle cx="1541.6" cy="1729.7" r="3.4" fill="#c24b63"/>
<circle cx="1540.2" cy="1734.6" r="3.4" fill="#c24b63"/>
<circle cx="1532.1" cy="1736.0" r="3.4" fill="#c24b63"/>
<circle cx="1535.5" cy="1736.5" r="3.4" fill="#c24b63"/>
<circle cx="1538.9" cy="1741.4" r="3.4" fill="#c24b63"/>
<circle cx="1549.7" cy="1740.5" r="3.4" fill="#c24b63"/>
<circle cx="1554.7" cy="1738.7" r="3.4" fill="#c24b63"/>
<circle cx="1559.6" cy="1736.9" r="3.4" fill="#c24b63"/>
<circle cx="1559.9" cy="1746.4" r="3.4" fill="#c24b63"/>
<circle cx="1526.6" cy="1747.9" r="3.4" fill="#c24b63"/>
<circle cx="1532.1" cy="1750.5" r="3.4" fill="#c24b63"/>
<circle cx="1542.9" cy="1747.8" r="3.4" fill="#c24b63"/>
<circle cx="1547.9" cy="1750.0" r="3.4" fill="#c24b63"/>
<circle cx="1546.5" cy="1755.4" r="3.4" fill="#c24b63"/>
<circle cx="1531.2" cy="1758.2" r="3.4" fill="#c24b63"/>
<circle cx="1554.7" cy="1756.8" r="3.4" fill="#c24b63"/>
<circle cx="1541.8" cy="1762.0" r="3.4" fill="#c24b63"/>
<circle cx="1558.3" cy="1763.0" r="3.4" fill="#c24b63"/>
<circle cx="1545.6" cy="1766.9" r="3.4" fill="#c24b63"/>
<circle cx="1528.9" cy="1773.8" r="3.4" fill="#c24b63"/>
<circle cx="1557.4" cy="1772.2" r="3.4" fill="#c24b63"/>
<circle cx="1555.1" cy="1774.9" r="3.4" fill="#c24b63"/>
<circle cx="1546.5" cy="1778.0" r="3.4" fill="#c24b63"/>
<circle cx="1537.5" cy="1780.5" r="3.4" fill="#c24b63"/>
<circle cx="1530.3" cy="1791.2" r="3.4" fill="#c24b63"/>
<circle cx="1535.7" cy="1794.6" r="3.4" fill="#c24b63"/>
<circle cx="1548.8" cy="1793.0" r="3.4" fill="#c24b63"/>
<circle cx="1554.9" cy="1792.1" r="3.4" fill="#c24b63"/>
<circle cx="1551.8" cy="1801.6" r="3.4" fill="#c24b63"/>
<circle cx="1537.9" cy="1804.3" r="3.4" fill="#c24b63"/>
<circle cx="1555.1" cy="1809.2" r="3.4" fill="#c24b63"/>
<circle cx="1529.4" cy="1826.4" r="3.4" fill="#c24b63"/>
<circle cx="1644.6" cy="1657.0" r="3.4" fill="#76b1e4"/>
<circle cx="1646.4" cy="1700.9" r="3.4" fill="#76b1e4"/>
<circle cx="1642.1" cy="1703.9" r="3.4" fill="#76b1e4"/>
<circle cx="1614.3" cy="1710.7" r="3.4" fill="#76b1e4"/>
<circle cx="1623.9" cy="1711.6" r="3.4" fill="#76b1e4"/>
<circle cx="1625.0" cy="1713.2" r="3.4" fill="#76b1e4"/>
<circle cx="1624.3" cy="1720.5" r="3.4" fill="#76b1e4"/>
<circle cx="1613.0" cy="1722.7" r="3.4" fill="#76b1e4"/>
<circle cx="1646.1" cy="1720.7" r="3.4" fill="#76b1e4"/>
<circle cx="1639.4" cy="1724.8" r="3.4" fill="#76b1e4"/>
<circle cx="1646.5" cy="1726.1" r="3.4" fill="#76b1e4"/>
<circle cx="1631.1" cy="1727.2" r="3.4" fill="#76b1e4"/>
<circle cx="1633.0" cy="1731.4" r="3.4" fill="#76b1e4"/>
<circle cx="1636.0" cy="1734.0" r="3.4" fill="#76b1e4"/>
<circle cx="1635.6" cy="1736.7" r="3.4" fill="#76b1e4"/>
<circle cx="1642.8" cy="1735.2" r="3.4" fill="#76b1e4"/>
<circle cx="1612.6" cy="1743.1" r="3.4" fill="#76b1e4"/>
<circle cx="1622.3" cy="1746.3" r="3.4" fill="#76b1e4"/>
<circle cx="1646.4" cy="1742.3" r="3.4" fill="#76b1e4"/>
<circle cx="1646.4" cy="1745.3" r="3.4" fill="#76b1e4"/>
<circle cx="1623.5" cy="1751.4" r="3.4" fill="#76b1e4"/>
<circle cx="1618.6" cy="1754.4" r="3.4" fill="#76b1e4"/>
<circle cx="1613.4" cy="1758.9" r="3.4" fill="#76b1e4"/>
<circle cx="1626.8" cy="1757.8" r="3.4" fill="#76b1e4"/>
<circle cx="1637.3" cy="1751.7" r="3.4" fill="#76b1e4"/>
<circle cx="1637.5" cy="1758.5" r="3.4" fill="#76b1e4"/>
<circle cx="1636.3" cy="1763.0" r="3.4" fill="#76b1e4"/>
<circle cx="1613.4" cy="1767.2" r="3.4" fill="#76b1e4"/>
<circle cx="1618.6" cy="1768.3" r="3.4" fill="#76b1e4"/>
<circle cx="1628.1" cy="1767.6" r="3.4" fill="#76b1e4"/>
<circle cx="1645.0" cy="1768.7" r="3.4" fill="#76b1e4"/>
<circle cx="1615.6" cy="1774.3" r="3.4" fill="#76b1e4"/>
<circle cx="1620.1" cy="1774.3" r="3.4" fill="#76b1e4"/>
<circle cx="1643.1" cy="1775.5" r="3.4" fill="#76b1e4"/>
<circle cx="1616.4" cy="1782.6" r="3.4" fill="#76b1e4"/>
<circle cx="1640.9" cy="1784.0" r="3.4" fill="#76b1e4"/>
<circle cx="1729.2" cy="1468.2" r="3.4" fill="#e3a128"/>
<circle cx="1718.4" cy="1509.6" r="3.4" fill="#e3a128"/>
<circle cx="1716.4" cy="1531.9" r="3.4" fill="#e3a128"/>
<circle cx="1732.7" cy="1547.9" r="3.4" fill="#e3a128"/>
<circle cx="1715.7" cy="1598.5" r="3.4" fill="#e3a128"/>
<circle cx="1721.7" cy="1615.2" r="3.4" fill="#e3a128"/>
<circle cx="1718.7" cy="1632.9" r="3.4" fill="#e3a128"/>
<circle cx="1706.6" cy="1650.6" r="3.4" fill="#e3a128"/>
<circle cx="1704.4" cy="1653.2" r="3.4" fill="#e3a128"/>
<circle cx="1730.7" cy="1650.9" r="3.4" fill="#e3a128"/>
<circle cx="1722.0" cy="1670.2" r="3.4" fill="#e3a128"/>
<circle cx="1703.6" cy="1686.3" r="3.4" fill="#e3a128"/>
<circle cx="1703.6" cy="1690.9" r="3.4" fill="#e3a128"/>
<circle cx="1712.7" cy="1693.9" r="3.4" fill="#e3a128"/>
<circle cx="1706.3" cy="1721.3" r="3.4" fill="#e3a128"/>
<circle cx="1704.4" cy="1731.5" r="3.4" fill="#e3a128"/>
<circle cx="1716.4" cy="1730.8" r="3.4" fill="#e3a128"/>
<rect x="1491.90" y="1025.10" width="275.90" height="839.30" fill="none" stroke="#3a3a3a" stroke-width="1.35"/>
<line x1="1487.40" y1="1708.70" x2="1491.90" y2="1708.70" stroke="#333333" stroke-width="1.5"/>
<text transform="translate(1483.90,1713.60) scale(1,1.05)" font-size="13" fill="#4d4d4d" text-anchor="end" font-weight="normal" font-style="normal">0</text>
<line x1="1487.40" y1="1518.70" x2="1491.90" y2="1518.70" stroke="#333333" stroke-width="1.5"/>
<text transform="translate(1483.90,1523.60) scale(1,1.05)" font-size="13" fill="#4d4d4d" text-anchor="end" font-weight="normal" font-style="normal">50</text>
<line x1="1487.40" y1="1328.70" x2="1491.90" y2="1328.70" stroke="#333333" stroke-width="1.5"/>
<text transform="translate(1483.90,1333.60) scale(1,1.05)" font-size="13" fill="#4d4d4d" text-anchor="end" font-weight="normal" font-style="normal">100</text>
<line x1="1487.40" y1="1138.70" x2="1491.90" y2="1138.70" stroke="#333333" stroke-width="1.5"/>
<text transform="translate(1483.90,1143.60) scale(1,1.05)" font-size="13" fill="#4d4d4d" text-anchor="end" font-weight="normal" font-style="normal">150</text>
<line x1="1543.60" y1="1864.10" x2="1543.60" y2="1868.60" stroke="#333333" stroke-width="1.5"/>
<line x1="1630.00" y1="1864.10" x2="1630.00" y2="1868.60" stroke="#333333" stroke-width="1.5"/>
<line x1="1716.70" y1="1864.10" x2="1716.70" y2="1868.60" stroke="#333333" stroke-width="1.5"/>
<text transform="translate(1550.40,1879.70) rotate(-45) scale(1,1.05)" font-size="13.6" fill="#4d4d4d" text-anchor="end">Sarawak Indigenous</text>
<text transform="translate(1636.80,1879.70) rotate(-45) scale(1,1.05)" font-size="13.6" fill="#4d4d4d" text-anchor="end">Selangor Indigenous</text>
<text transform="translate(1723.50,1879.70) rotate(-45) scale(1,1.05)" font-size="13.6" fill="#4d4d4d" text-anchor="end">Kuala Lumpur Urban</text>
<text transform="translate(1630.00,1987.00) scale(1,1.05)" font-size="16.9" fill="#000" text-anchor="middle" font-weight="normal" font-style="normal">Location</text>
<text transform="translate(1454.10,1444.60) rotate(-90) scale(1,1.05)" font-size="16.9" text-anchor="middle">Alistipes</text>
<text transform="translate(1512.60,1063.30) scale(1,1.05)" font-size="13.1" fill="#000" text-anchor="start" font-weight="normal" font-style="normal">Kruskal-Wallis, p = 2.6e-07</text>
<path d="M1630.00,1119.50 V1105.50 H1716.70 V1119.50" fill="none" stroke="#333333" stroke-width="1.2"/>
<text transform="translate(1673.35,1097.50) scale(1,1.05)" font-size="13.1" fill="#000" text-anchor="middle" font-weight="normal" font-style="normal">1.13e-09</text>
<path d="M1543.60,1202.00 V1188.00 H1716.70 V1202.00" fill="none" stroke="#333333" stroke-width="1.2"/>
<text transform="translate(1630.15,1180.00) scale(1,1.05)" font-size="13.1" fill="#000" text-anchor="middle" font-weight="normal" font-style="normal">0.037</text>
<path d="M1543.60,1284.40 V1270.90 H1630.00 V1284.40" fill="none" stroke="#333333" stroke-width="1.2"/>
<text transform="translate(1586.80,1262.50) scale(1,1.05)" font-size="13.1" fill="#000" text-anchor="middle" font-weight="normal" font-style="normal">6.8e-05</text>
<text transform="translate(1429.00,1022.70) scale(1,1.06)" font-size="19.5" fill="#000" text-anchor="start" font-weight="normal" font-style="normal">F</text>
</svg></body></html>
